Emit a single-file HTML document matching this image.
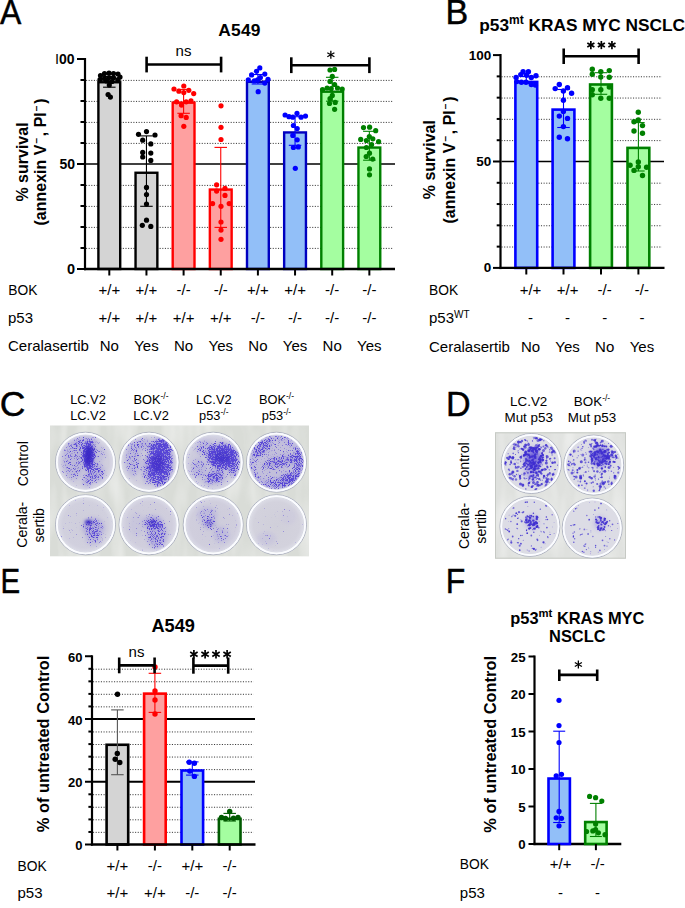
<!DOCTYPE html>
<html><head><meta charset="utf-8"><style>
html,body{margin:0;padding:0;background:#fff;}
body{width:685px;height:908px;overflow:hidden;}
svg{display:block;}
text{font-family:"Liberation Sans",sans-serif;fill:#000;}
</style></head><body>
<svg width="685" height="908" viewBox="0 0 685 908" font-family="Liberation Sans, sans-serif">
<rect width="685" height="908" fill="#fff"/>
<text transform="translate(0,23.9) scale(0.9,1)" font-size="35.5" stroke="#000" stroke-width="0.45">A</text>
<text transform="translate(445.4,24) scale(0.96,1)" font-size="35.5" stroke="#000" stroke-width="0.45">B</text>
<text transform="translate(-0.3,416.45) scale(1.0,1)" font-size="35.5" stroke="#000" stroke-width="0.45">C</text>
<text transform="translate(446,416.2) scale(0.96,1)" font-size="35.5" stroke="#000" stroke-width="0.45">D</text>
<text transform="translate(0.38,592.8) scale(0.83,1)" font-size="35.5" stroke="#000" stroke-width="0.45">E</text>
<text transform="translate(445.7,592.8) scale(0.9,1)" font-size="35.5" stroke="#000" stroke-width="0.45">F</text>
<line x1="86.00" y1="248.40" x2="393.00" y2="248.40" stroke="#3a3a3a" stroke-width="1" stroke-dasharray="1.1 1.53" stroke-linecap="butt"/>
<line x1="86.00" y1="227.40" x2="393.00" y2="227.40" stroke="#3a3a3a" stroke-width="1" stroke-dasharray="1.1 1.53" stroke-linecap="butt"/>
<line x1="86.00" y1="206.40" x2="393.00" y2="206.40" stroke="#3a3a3a" stroke-width="1" stroke-dasharray="1.1 1.53" stroke-linecap="butt"/>
<line x1="86.00" y1="185.40" x2="393.00" y2="185.40" stroke="#3a3a3a" stroke-width="1" stroke-dasharray="1.1 1.53" stroke-linecap="butt"/>
<line x1="86.00" y1="143.40" x2="393.00" y2="143.40" stroke="#3a3a3a" stroke-width="1" stroke-dasharray="1.1 1.53" stroke-linecap="butt"/>
<line x1="86.00" y1="122.40" x2="393.00" y2="122.40" stroke="#3a3a3a" stroke-width="1" stroke-dasharray="1.1 1.53" stroke-linecap="butt"/>
<line x1="86.00" y1="101.40" x2="393.00" y2="101.40" stroke="#3a3a3a" stroke-width="1" stroke-dasharray="1.1 1.53" stroke-linecap="butt"/>
<line x1="86.00" y1="80.40" x2="393.00" y2="80.40" stroke="#3a3a3a" stroke-width="1" stroke-dasharray="1.1 1.53" stroke-linecap="butt"/>
<line x1="86.00" y1="164.00" x2="395.00" y2="164.00" stroke="#000" stroke-width="1.6" stroke-linecap="butt"/>
<rect x="98.40" y="82.25" width="21.80" height="186.75" fill="#d4d4d4" stroke="#000" stroke-width="2.4"/>
<rect x="135.55" y="172.76" width="21.80" height="96.24" fill="#d4d4d4" stroke="#000" stroke-width="2.4"/>
<rect x="172.70" y="102.62" width="21.80" height="166.38" fill="#fea0a0" stroke="#ff0000" stroke-width="2.4"/>
<rect x="209.85" y="189.56" width="21.80" height="79.44" fill="#fea0a0" stroke="#ff0000" stroke-width="2.4"/>
<rect x="247.00" y="81.83" width="21.80" height="187.17" fill="#92bff8" stroke="#0000c0" stroke-width="2.4"/>
<rect x="284.15" y="132.44" width="21.80" height="136.56" fill="#92bff8" stroke="#0000c0" stroke-width="2.4"/>
<rect x="321.30" y="91.70" width="21.80" height="177.30" fill="#a4fea0" stroke="#008000" stroke-width="2.4"/>
<rect x="358.45" y="147.56" width="21.80" height="121.44" fill="#a4fea0" stroke="#008000" stroke-width="2.4"/>
<line x1="109.30" y1="76.50" x2="109.30" y2="87.20" stroke="#000" stroke-width="1.1" stroke-linecap="butt"/>
<line x1="103.05" y1="76.50" x2="115.55" y2="76.50" stroke="#000" stroke-width="1.1" stroke-linecap="butt"/>
<line x1="103.05" y1="87.20" x2="115.55" y2="87.20" stroke="#000" stroke-width="1.1" stroke-linecap="butt"/>
<line x1="146.45" y1="135.90" x2="146.45" y2="206.30" stroke="#000" stroke-width="1.1" stroke-linecap="butt"/>
<line x1="140.20" y1="135.90" x2="152.70" y2="135.90" stroke="#000" stroke-width="1.1" stroke-linecap="butt"/>
<line x1="140.20" y1="206.30" x2="152.70" y2="206.30" stroke="#000" stroke-width="1.1" stroke-linecap="butt"/>
<line x1="183.60" y1="89.40" x2="183.60" y2="113.30" stroke="#ff0000" stroke-width="1.1" stroke-linecap="butt"/>
<line x1="177.35" y1="89.40" x2="189.85" y2="89.40" stroke="#ff0000" stroke-width="1.1" stroke-linecap="butt"/>
<line x1="177.35" y1="113.30" x2="189.85" y2="113.30" stroke="#ff0000" stroke-width="1.1" stroke-linecap="butt"/>
<line x1="220.75" y1="147.40" x2="220.75" y2="227.40" stroke="#ff0000" stroke-width="1.1" stroke-linecap="butt"/>
<line x1="214.50" y1="147.40" x2="227.00" y2="147.40" stroke="#ff0000" stroke-width="1.1" stroke-linecap="butt"/>
<line x1="214.50" y1="227.40" x2="227.00" y2="227.40" stroke="#ff0000" stroke-width="1.1" stroke-linecap="butt"/>
<line x1="257.90" y1="74.50" x2="257.90" y2="84.00" stroke="#0000ff" stroke-width="1.1" stroke-linecap="butt"/>
<line x1="251.65" y1="74.50" x2="264.15" y2="74.50" stroke="#0000ff" stroke-width="1.1" stroke-linecap="butt"/>
<line x1="251.65" y1="84.00" x2="264.15" y2="84.00" stroke="#0000ff" stroke-width="1.1" stroke-linecap="butt"/>
<line x1="295.05" y1="116.70" x2="295.05" y2="145.30" stroke="#0000ff" stroke-width="1.1" stroke-linecap="butt"/>
<line x1="288.80" y1="116.70" x2="301.30" y2="116.70" stroke="#0000ff" stroke-width="1.1" stroke-linecap="butt"/>
<line x1="288.80" y1="145.30" x2="301.30" y2="145.30" stroke="#0000ff" stroke-width="1.1" stroke-linecap="butt"/>
<line x1="332.20" y1="77.30" x2="332.20" y2="101.20" stroke="#008000" stroke-width="1.1" stroke-linecap="butt"/>
<line x1="325.95" y1="77.30" x2="338.45" y2="77.30" stroke="#008000" stroke-width="1.1" stroke-linecap="butt"/>
<line x1="325.95" y1="101.20" x2="338.45" y2="101.20" stroke="#008000" stroke-width="1.1" stroke-linecap="butt"/>
<line x1="369.35" y1="131.30" x2="369.35" y2="160.20" stroke="#008000" stroke-width="1.1" stroke-linecap="butt"/>
<line x1="363.10" y1="131.30" x2="375.60" y2="131.30" stroke="#008000" stroke-width="1.1" stroke-linecap="butt"/>
<line x1="363.10" y1="160.20" x2="375.60" y2="160.20" stroke="#008000" stroke-width="1.1" stroke-linecap="butt"/>
<circle cx="100.5" cy="75.5" r="2.6" fill="#000"/>
<circle cx="104.5" cy="73.5" r="2.6" fill="#000"/>
<circle cx="109.0" cy="73.0" r="2.6" fill="#000"/>
<circle cx="113.5" cy="73.5" r="2.6" fill="#000"/>
<circle cx="118.0" cy="74.0" r="2.6" fill="#000"/>
<circle cx="120.0" cy="77.0" r="2.6" fill="#000"/>
<circle cx="100.0" cy="79.5" r="2.6" fill="#000"/>
<circle cx="104.5" cy="78.5" r="2.6" fill="#000"/>
<circle cx="109.0" cy="77.5" r="2.6" fill="#000"/>
<circle cx="113.5" cy="78.0" r="2.6" fill="#000"/>
<circle cx="118.0" cy="79.5" r="2.6" fill="#000"/>
<circle cx="106.5" cy="81.0" r="2.6" fill="#000"/>
<circle cx="112.0" cy="81.5" r="2.6" fill="#000"/>
<circle cx="109.3" cy="85.0" r="2.6" fill="#000"/>
<circle cx="108.1" cy="94.5" r="2.6" fill="#000"/>
<circle cx="110.4" cy="97.1" r="2.6" fill="#000"/>
<circle cx="138.5" cy="134.3" r="2.6" fill="#000"/>
<circle cx="146.5" cy="131.6" r="2.6" fill="#000"/>
<circle cx="155.0" cy="135.0" r="2.6" fill="#000"/>
<circle cx="142.7" cy="140.2" r="2.6" fill="#000"/>
<circle cx="150.8" cy="143.9" r="2.6" fill="#000"/>
<circle cx="142.7" cy="152.4" r="2.6" fill="#000"/>
<circle cx="150.8" cy="153.1" r="2.6" fill="#000"/>
<circle cx="142.7" cy="157.0" r="2.6" fill="#000"/>
<circle cx="150.8" cy="160.4" r="2.6" fill="#000"/>
<circle cx="146.5" cy="187.4" r="2.6" fill="#000"/>
<circle cx="146.5" cy="194.6" r="2.6" fill="#000"/>
<circle cx="146.5" cy="204.0" r="2.6" fill="#000"/>
<circle cx="146.5" cy="220.2" r="2.6" fill="#000"/>
<circle cx="142.3" cy="225.3" r="2.6" fill="#000"/>
<circle cx="150.8" cy="226.4" r="2.6" fill="#000"/>
<circle cx="174.0" cy="89.0" r="2.6" fill="#ff0000"/>
<circle cx="183.8" cy="86.0" r="2.6" fill="#ff0000"/>
<circle cx="178.9" cy="91.2" r="2.6" fill="#ff0000"/>
<circle cx="183.8" cy="92.6" r="2.6" fill="#ff0000"/>
<circle cx="188.8" cy="90.3" r="2.6" fill="#ff0000"/>
<circle cx="193.7" cy="93.6" r="2.6" fill="#ff0000"/>
<circle cx="176.6" cy="101.8" r="2.6" fill="#ff0000"/>
<circle cx="181.5" cy="105.1" r="2.6" fill="#ff0000"/>
<circle cx="186.2" cy="101.8" r="2.6" fill="#ff0000"/>
<circle cx="191.0" cy="100.9" r="2.6" fill="#ff0000"/>
<circle cx="181.1" cy="115.7" r="2.6" fill="#ff0000"/>
<circle cx="186.2" cy="117.4" r="2.6" fill="#ff0000"/>
<circle cx="183.8" cy="126.3" r="2.6" fill="#ff0000"/>
<circle cx="221.0" cy="105.8" r="2.6" fill="#ff0000"/>
<circle cx="221.0" cy="127.3" r="2.6" fill="#ff0000"/>
<circle cx="221.0" cy="139.5" r="2.6" fill="#ff0000"/>
<circle cx="216.6" cy="184.8" r="2.6" fill="#ff0000"/>
<circle cx="216.6" cy="191.1" r="2.6" fill="#ff0000"/>
<circle cx="225.0" cy="188.4" r="2.6" fill="#ff0000"/>
<circle cx="225.0" cy="195.4" r="2.6" fill="#ff0000"/>
<circle cx="212.6" cy="203.6" r="2.6" fill="#ff0000"/>
<circle cx="221.0" cy="206.3" r="2.6" fill="#ff0000"/>
<circle cx="229.2" cy="203.6" r="2.6" fill="#ff0000"/>
<circle cx="221.0" cy="222.0" r="2.6" fill="#ff0000"/>
<circle cx="221.0" cy="230.1" r="2.6" fill="#ff0000"/>
<circle cx="221.0" cy="239.3" r="2.6" fill="#ff0000"/>
<circle cx="259.8" cy="67.9" r="2.6" fill="#0000ff"/>
<circle cx="256.5" cy="71.3" r="2.6" fill="#0000ff"/>
<circle cx="251.6" cy="74.9" r="2.6" fill="#0000ff"/>
<circle cx="264.8" cy="74.1" r="2.6" fill="#0000ff"/>
<circle cx="248.3" cy="79.8" r="2.6" fill="#0000ff"/>
<circle cx="254.3" cy="80.9" r="2.6" fill="#0000ff"/>
<circle cx="260.4" cy="77.6" r="2.6" fill="#0000ff"/>
<circle cx="268.0" cy="79.3" r="2.6" fill="#0000ff"/>
<circle cx="264.8" cy="83.1" r="2.6" fill="#0000ff"/>
<circle cx="257.6" cy="79.8" r="2.6" fill="#0000ff"/>
<circle cx="258.2" cy="91.7" r="2.6" fill="#0000ff"/>
<circle cx="285.1" cy="115.0" r="2.6" fill="#0000ff"/>
<circle cx="289.0" cy="116.7" r="2.6" fill="#0000ff"/>
<circle cx="292.8" cy="117.2" r="2.6" fill="#0000ff"/>
<circle cx="297.0" cy="113.4" r="2.6" fill="#0000ff"/>
<circle cx="301.1" cy="117.2" r="2.6" fill="#0000ff"/>
<circle cx="305.5" cy="116.1" r="2.6" fill="#0000ff"/>
<circle cx="293.4" cy="125.5" r="2.6" fill="#0000ff"/>
<circle cx="297.2" cy="128.5" r="2.6" fill="#0000ff"/>
<circle cx="292.8" cy="135.4" r="2.6" fill="#0000ff"/>
<circle cx="297.2" cy="139.8" r="2.6" fill="#0000ff"/>
<circle cx="293.4" cy="147.5" r="2.6" fill="#0000ff"/>
<circle cx="298.3" cy="146.9" r="2.6" fill="#0000ff"/>
<circle cx="295.3" cy="168.3" r="2.6" fill="#0000ff"/>
<circle cx="330.0" cy="70.0" r="2.6" fill="#008000"/>
<circle cx="334.6" cy="69.4" r="2.6" fill="#008000"/>
<circle cx="332.3" cy="76.4" r="2.6" fill="#008000"/>
<circle cx="330.0" cy="81.4" r="2.6" fill="#008000"/>
<circle cx="334.6" cy="84.5" r="2.6" fill="#008000"/>
<circle cx="322.5" cy="89.7" r="2.6" fill="#008000"/>
<circle cx="327.1" cy="88.0" r="2.6" fill="#008000"/>
<circle cx="331.2" cy="88.5" r="2.6" fill="#008000"/>
<circle cx="337.5" cy="88.0" r="2.6" fill="#008000"/>
<circle cx="342.2" cy="89.1" r="2.6" fill="#008000"/>
<circle cx="332.3" cy="95.4" r="2.6" fill="#008000"/>
<circle cx="330.0" cy="98.7" r="2.6" fill="#008000"/>
<circle cx="329.5" cy="103.5" r="2.6" fill="#008000"/>
<circle cx="335.2" cy="102.4" r="2.6" fill="#008000"/>
<circle cx="334.6" cy="109.3" r="2.6" fill="#008000"/>
<circle cx="363.5" cy="127.6" r="2.6" fill="#008000"/>
<circle cx="369.6" cy="127.2" r="2.6" fill="#008000"/>
<circle cx="375.7" cy="130.7" r="2.6" fill="#008000"/>
<circle cx="360.7" cy="139.4" r="2.6" fill="#008000"/>
<circle cx="366.4" cy="140.5" r="2.6" fill="#008000"/>
<circle cx="369.3" cy="136.5" r="2.6" fill="#008000"/>
<circle cx="372.8" cy="138.8" r="2.6" fill="#008000"/>
<circle cx="378.6" cy="141.7" r="2.6" fill="#008000"/>
<circle cx="371.6" cy="144.6" r="2.6" fill="#008000"/>
<circle cx="366.4" cy="147.5" r="2.6" fill="#008000"/>
<circle cx="369.5" cy="153.2" r="2.6" fill="#008000"/>
<circle cx="366.2" cy="156.5" r="2.6" fill="#008000"/>
<circle cx="372.7" cy="159.1" r="2.6" fill="#008000"/>
<circle cx="369.5" cy="168.9" r="2.6" fill="#008000"/>
<circle cx="369.5" cy="174.8" r="2.6" fill="#008000"/>
<line x1="85.00" y1="58.00" x2="85.00" y2="270.20" stroke="#000" stroke-width="2.2" stroke-linecap="butt"/>
<line x1="83.90" y1="269.00" x2="395.00" y2="269.00" stroke="#000" stroke-width="2.4" stroke-linecap="butt"/>
<line x1="77.00" y1="269.00" x2="85.00" y2="269.00" stroke="#000" stroke-width="2" stroke-linecap="butt"/>
<line x1="80.50" y1="248.00" x2="85.00" y2="248.00" stroke="#000" stroke-width="2" stroke-linecap="butt"/>
<line x1="80.50" y1="227.00" x2="85.00" y2="227.00" stroke="#000" stroke-width="2" stroke-linecap="butt"/>
<line x1="80.50" y1="206.00" x2="85.00" y2="206.00" stroke="#000" stroke-width="2" stroke-linecap="butt"/>
<line x1="80.50" y1="185.00" x2="85.00" y2="185.00" stroke="#000" stroke-width="2" stroke-linecap="butt"/>
<line x1="77.00" y1="164.00" x2="85.00" y2="164.00" stroke="#000" stroke-width="2" stroke-linecap="butt"/>
<line x1="80.50" y1="143.00" x2="85.00" y2="143.00" stroke="#000" stroke-width="2" stroke-linecap="butt"/>
<line x1="80.50" y1="122.00" x2="85.00" y2="122.00" stroke="#000" stroke-width="2" stroke-linecap="butt"/>
<line x1="80.50" y1="101.00" x2="85.00" y2="101.00" stroke="#000" stroke-width="2" stroke-linecap="butt"/>
<line x1="80.50" y1="80.00" x2="85.00" y2="80.00" stroke="#000" stroke-width="2" stroke-linecap="butt"/>
<line x1="77.00" y1="59.00" x2="85.00" y2="59.00" stroke="#000" stroke-width="2" stroke-linecap="butt"/>
<line x1="109.30" y1="269.00" x2="109.30" y2="275.50" stroke="#000" stroke-width="2" stroke-linecap="butt"/>
<line x1="146.45" y1="269.00" x2="146.45" y2="275.50" stroke="#000" stroke-width="2" stroke-linecap="butt"/>
<line x1="183.60" y1="269.00" x2="183.60" y2="275.50" stroke="#000" stroke-width="2" stroke-linecap="butt"/>
<line x1="220.75" y1="269.00" x2="220.75" y2="275.50" stroke="#000" stroke-width="2" stroke-linecap="butt"/>
<line x1="257.90" y1="269.00" x2="257.90" y2="275.50" stroke="#000" stroke-width="2" stroke-linecap="butt"/>
<line x1="295.05" y1="269.00" x2="295.05" y2="275.50" stroke="#000" stroke-width="2" stroke-linecap="butt"/>
<line x1="332.20" y1="269.00" x2="332.20" y2="275.50" stroke="#000" stroke-width="2" stroke-linecap="butt"/>
<line x1="369.35" y1="269.00" x2="369.35" y2="275.50" stroke="#000" stroke-width="2" stroke-linecap="butt"/>
<text x="74.50" y="63.80" font-size="14" font-weight="bold" text-anchor="end"><tspan font-weight="normal" font-size="14.5">I</tspan><tspan>00</tspan></text>
<text x="75.00" y="168.70" font-size="14" font-weight="bold" text-anchor="end">50</text>
<text x="75.10" y="273.90" font-size="14.5" font-weight="bold" text-anchor="end">0</text>
<text transform="translate(27.5,162) rotate(-90)" font-size="16" font-weight="bold" text-anchor="middle">% survival</text>
<text transform="translate(45.6,162) rotate(-90)" font-size="16" font-weight="bold" text-anchor="middle">(annexin V<tspan font-size="10" dy="-6" dx="1">−</tspan><tspan dy="6" dx="1.5">, PI</tspan><tspan font-size="10" dy="-6" dx="1">−</tspan><tspan dy="6" dx="1.5">)</tspan></text>
<text x="239.50" y="36.00" font-size="17.4" font-weight="bold" text-anchor="middle" letter-spacing="0.2">A549</text>
<line x1="146.60" y1="64.50" x2="221.10" y2="64.50" stroke="#000" stroke-width="2.6" stroke-linecap="butt"/>
<line x1="146.60" y1="56.70" x2="146.60" y2="72.40" stroke="#000" stroke-width="2.6" stroke-linecap="butt"/>
<line x1="221.10" y1="56.70" x2="221.10" y2="72.40" stroke="#000" stroke-width="2.6" stroke-linecap="butt"/>
<text x="183.50" y="56.00" font-size="15" font-weight="normal" text-anchor="middle">ns</text>
<line x1="291.30" y1="65.20" x2="369.40" y2="65.20" stroke="#000" stroke-width="2.6" stroke-linecap="butt"/>
<line x1="291.30" y1="57.30" x2="291.30" y2="73.10" stroke="#000" stroke-width="2.6" stroke-linecap="butt"/>
<line x1="369.40" y1="57.30" x2="369.40" y2="73.10" stroke="#000" stroke-width="2.6" stroke-linecap="butt"/>
<line x1="330.85" y1="50.65" x2="330.85" y2="58.85" stroke="#000" stroke-width="1.3" stroke-linecap="butt"/>
<line x1="327.30" y1="52.70" x2="334.40" y2="56.80" stroke="#000" stroke-width="1.3" stroke-linecap="butt"/>
<line x1="334.40" y1="52.70" x2="327.30" y2="56.80" stroke="#000" stroke-width="1.3" stroke-linecap="butt"/>
<text transform="translate(8.2,295.1) scale(0.92,1)" font-size="15">BOK</text>
<text x="8.00" y="323.10" font-size="15" font-weight="normal" text-anchor="start">p53</text>
<text x="8.00" y="351.30" font-size="15" font-weight="normal" text-anchor="start">Ceralasertib</text>
<text x="109.30" y="295.10" font-size="15" font-weight="normal" text-anchor="middle">+/+</text>
<text x="109.30" y="323.10" font-size="15" font-weight="normal" text-anchor="middle">+/+</text>
<text x="109.30" y="351.30" font-size="15" font-weight="normal" text-anchor="middle">No</text>
<text x="146.45" y="295.10" font-size="15" font-weight="normal" text-anchor="middle">+/+</text>
<text x="146.45" y="323.10" font-size="15" font-weight="normal" text-anchor="middle">+/+</text>
<text x="146.45" y="351.30" font-size="15" font-weight="normal" text-anchor="middle">Yes</text>
<text x="183.60" y="295.10" font-size="15" font-weight="normal" text-anchor="middle">-/-</text>
<text x="183.60" y="323.10" font-size="15" font-weight="normal" text-anchor="middle">+/+</text>
<text x="183.60" y="351.30" font-size="15" font-weight="normal" text-anchor="middle">No</text>
<text x="220.75" y="295.10" font-size="15" font-weight="normal" text-anchor="middle">-/-</text>
<text x="220.75" y="323.10" font-size="15" font-weight="normal" text-anchor="middle">+/+</text>
<text x="220.75" y="351.30" font-size="15" font-weight="normal" text-anchor="middle">Yes</text>
<text x="257.90" y="295.10" font-size="15" font-weight="normal" text-anchor="middle">+/+</text>
<text x="257.90" y="323.10" font-size="15" font-weight="normal" text-anchor="middle">-/-</text>
<text x="257.90" y="351.30" font-size="15" font-weight="normal" text-anchor="middle">No</text>
<text x="295.05" y="295.10" font-size="15" font-weight="normal" text-anchor="middle">+/+</text>
<text x="295.05" y="323.10" font-size="15" font-weight="normal" text-anchor="middle">-/-</text>
<text x="295.05" y="351.30" font-size="15" font-weight="normal" text-anchor="middle">Yes</text>
<text x="332.20" y="295.10" font-size="15" font-weight="normal" text-anchor="middle">-/-</text>
<text x="332.20" y="323.10" font-size="15" font-weight="normal" text-anchor="middle">-/-</text>
<text x="332.20" y="351.30" font-size="15" font-weight="normal" text-anchor="middle">No</text>
<text x="369.35" y="295.10" font-size="15" font-weight="normal" text-anchor="middle">-/-</text>
<text x="369.35" y="323.10" font-size="15" font-weight="normal" text-anchor="middle">-/-</text>
<text x="369.35" y="351.30" font-size="15" font-weight="normal" text-anchor="middle">Yes</text>
<line x1="501.50" y1="247.02" x2="662.00" y2="247.02" stroke="#3a3a3a" stroke-width="1" stroke-dasharray="1.1 1.53" stroke-linecap="butt"/>
<line x1="501.50" y1="225.74" x2="662.00" y2="225.74" stroke="#3a3a3a" stroke-width="1" stroke-dasharray="1.1 1.53" stroke-linecap="butt"/>
<line x1="501.50" y1="204.46" x2="662.00" y2="204.46" stroke="#3a3a3a" stroke-width="1" stroke-dasharray="1.1 1.53" stroke-linecap="butt"/>
<line x1="501.50" y1="183.18" x2="662.00" y2="183.18" stroke="#3a3a3a" stroke-width="1" stroke-dasharray="1.1 1.53" stroke-linecap="butt"/>
<line x1="501.50" y1="140.62" x2="662.00" y2="140.62" stroke="#3a3a3a" stroke-width="1" stroke-dasharray="1.1 1.53" stroke-linecap="butt"/>
<line x1="501.50" y1="119.34" x2="662.00" y2="119.34" stroke="#3a3a3a" stroke-width="1" stroke-dasharray="1.1 1.53" stroke-linecap="butt"/>
<line x1="501.50" y1="98.06" x2="662.00" y2="98.06" stroke="#3a3a3a" stroke-width="1" stroke-dasharray="1.1 1.53" stroke-linecap="butt"/>
<line x1="501.50" y1="76.78" x2="662.00" y2="76.78" stroke="#3a3a3a" stroke-width="1" stroke-dasharray="1.1 1.53" stroke-linecap="butt"/>
<line x1="501.50" y1="161.50" x2="664.00" y2="161.50" stroke="#000" stroke-width="1.6" stroke-linecap="butt"/>
<rect x="515.40" y="81.94" width="21.80" height="185.96" fill="#92bff8" stroke="#0000ff" stroke-width="2.6"/>
<rect x="552.60" y="109.60" width="21.80" height="158.30" fill="#92bff8" stroke="#0000ff" stroke-width="2.6"/>
<rect x="590.10" y="84.49" width="21.80" height="183.41" fill="#a4fea0" stroke="#008000" stroke-width="2.6"/>
<rect x="627.50" y="147.90" width="21.80" height="120.00" fill="#a4fea0" stroke="#008000" stroke-width="2.6"/>
<line x1="526.30" y1="76.50" x2="526.30" y2="83.50" stroke="#0000ff" stroke-width="1.1" stroke-linecap="butt"/>
<line x1="520.05" y1="76.50" x2="532.55" y2="76.50" stroke="#0000ff" stroke-width="1.1" stroke-linecap="butt"/>
<line x1="520.05" y1="83.50" x2="532.55" y2="83.50" stroke="#0000ff" stroke-width="1.1" stroke-linecap="butt"/>
<line x1="563.50" y1="89.50" x2="563.50" y2="127.50" stroke="#0000ff" stroke-width="1.1" stroke-linecap="butt"/>
<line x1="557.25" y1="89.50" x2="569.75" y2="89.50" stroke="#0000ff" stroke-width="1.1" stroke-linecap="butt"/>
<line x1="557.25" y1="127.50" x2="569.75" y2="127.50" stroke="#0000ff" stroke-width="1.1" stroke-linecap="butt"/>
<line x1="601.00" y1="72.70" x2="601.00" y2="94.30" stroke="#008000" stroke-width="1.1" stroke-linecap="butt"/>
<line x1="594.75" y1="72.70" x2="607.25" y2="72.70" stroke="#008000" stroke-width="1.1" stroke-linecap="butt"/>
<line x1="594.75" y1="94.30" x2="607.25" y2="94.30" stroke="#008000" stroke-width="1.1" stroke-linecap="butt"/>
<line x1="638.40" y1="122.60" x2="638.40" y2="171.00" stroke="#008000" stroke-width="1.1" stroke-linecap="butt"/>
<line x1="632.15" y1="122.60" x2="644.65" y2="122.60" stroke="#008000" stroke-width="1.1" stroke-linecap="butt"/>
<line x1="632.15" y1="171.00" x2="644.65" y2="171.00" stroke="#008000" stroke-width="1.1" stroke-linecap="butt"/>
<circle cx="523.1" cy="71.7" r="2.7" fill="#0000ff"/>
<circle cx="528.4" cy="71.7" r="2.7" fill="#0000ff"/>
<circle cx="520.8" cy="74.6" r="2.7" fill="#0000ff"/>
<circle cx="516.1" cy="77.5" r="2.7" fill="#0000ff"/>
<circle cx="536.0" cy="75.8" r="2.7" fill="#0000ff"/>
<circle cx="516.7" cy="81.6" r="2.7" fill="#0000ff"/>
<circle cx="521.4" cy="82.2" r="2.7" fill="#0000ff"/>
<circle cx="526.0" cy="82.2" r="2.7" fill="#0000ff"/>
<circle cx="531.3" cy="84.5" r="2.7" fill="#0000ff"/>
<circle cx="535.4" cy="85.1" r="2.7" fill="#0000ff"/>
<circle cx="526.6" cy="75.2" r="2.7" fill="#0000ff"/>
<circle cx="531.3" cy="77.5" r="2.7" fill="#0000ff"/>
<circle cx="559.3" cy="84.5" r="2.7" fill="#0000ff"/>
<circle cx="555.2" cy="88.6" r="2.7" fill="#0000ff"/>
<circle cx="563.4" cy="91.0" r="2.7" fill="#0000ff"/>
<circle cx="567.5" cy="87.8" r="2.7" fill="#0000ff"/>
<circle cx="571.6" cy="93.3" r="2.7" fill="#0000ff"/>
<circle cx="563.4" cy="100.3" r="2.7" fill="#0000ff"/>
<circle cx="563.4" cy="111.4" r="2.7" fill="#0000ff"/>
<circle cx="559.3" cy="116.1" r="2.7" fill="#0000ff"/>
<circle cx="567.5" cy="118.4" r="2.7" fill="#0000ff"/>
<circle cx="563.4" cy="126.6" r="2.7" fill="#0000ff"/>
<circle cx="559.3" cy="137.3" r="2.7" fill="#0000ff"/>
<circle cx="567.5" cy="138.8" r="2.7" fill="#0000ff"/>
<circle cx="592.3" cy="69.3" r="2.7" fill="#008000"/>
<circle cx="592.3" cy="74.3" r="2.7" fill="#008000"/>
<circle cx="600.8" cy="71.6" r="2.7" fill="#008000"/>
<circle cx="609.3" cy="70.6" r="2.7" fill="#008000"/>
<circle cx="600.8" cy="77.0" r="2.7" fill="#008000"/>
<circle cx="609.3" cy="77.3" r="2.7" fill="#008000"/>
<circle cx="592.3" cy="89.7" r="2.7" fill="#008000"/>
<circle cx="600.8" cy="89.7" r="2.7" fill="#008000"/>
<circle cx="609.3" cy="87.1" r="2.7" fill="#008000"/>
<circle cx="592.3" cy="94.8" r="2.7" fill="#008000"/>
<circle cx="600.8" cy="98.3" r="2.7" fill="#008000"/>
<circle cx="609.3" cy="98.3" r="2.7" fill="#008000"/>
<circle cx="638.3" cy="112.2" r="2.7" fill="#008000"/>
<circle cx="634.0" cy="121.8" r="2.7" fill="#008000"/>
<circle cx="638.3" cy="119.9" r="2.7" fill="#008000"/>
<circle cx="642.5" cy="125.6" r="2.7" fill="#008000"/>
<circle cx="634.0" cy="131.0" r="2.7" fill="#008000"/>
<circle cx="642.5" cy="133.3" r="2.7" fill="#008000"/>
<circle cx="638.3" cy="161.9" r="2.7" fill="#008000"/>
<circle cx="630.1" cy="165.3" r="2.7" fill="#008000"/>
<circle cx="638.3" cy="166.8" r="2.7" fill="#008000"/>
<circle cx="646.6" cy="167.3" r="2.7" fill="#008000"/>
<circle cx="634.0" cy="170.4" r="2.7" fill="#008000"/>
<circle cx="642.5" cy="175.5" r="2.7" fill="#008000"/>
<line x1="500.50" y1="54.00" x2="500.50" y2="269.10" stroke="#000" stroke-width="2.2" stroke-linecap="butt"/>
<line x1="499.40" y1="267.90" x2="664.50" y2="267.90" stroke="#000" stroke-width="2.4" stroke-linecap="butt"/>
<line x1="493.00" y1="267.90" x2="500.50" y2="267.90" stroke="#000" stroke-width="2" stroke-linecap="butt"/>
<line x1="496.70" y1="246.62" x2="500.50" y2="246.62" stroke="#000" stroke-width="2" stroke-linecap="butt"/>
<line x1="496.70" y1="225.34" x2="500.50" y2="225.34" stroke="#000" stroke-width="2" stroke-linecap="butt"/>
<line x1="496.70" y1="204.06" x2="500.50" y2="204.06" stroke="#000" stroke-width="2" stroke-linecap="butt"/>
<line x1="496.70" y1="182.78" x2="500.50" y2="182.78" stroke="#000" stroke-width="2" stroke-linecap="butt"/>
<line x1="493.00" y1="161.50" x2="500.50" y2="161.50" stroke="#000" stroke-width="2" stroke-linecap="butt"/>
<line x1="496.70" y1="140.22" x2="500.50" y2="140.22" stroke="#000" stroke-width="2" stroke-linecap="butt"/>
<line x1="496.70" y1="118.94" x2="500.50" y2="118.94" stroke="#000" stroke-width="2" stroke-linecap="butt"/>
<line x1="496.70" y1="97.66" x2="500.50" y2="97.66" stroke="#000" stroke-width="2" stroke-linecap="butt"/>
<line x1="496.70" y1="76.38" x2="500.50" y2="76.38" stroke="#000" stroke-width="2" stroke-linecap="butt"/>
<line x1="493.00" y1="55.10" x2="500.50" y2="55.10" stroke="#000" stroke-width="2" stroke-linecap="butt"/>
<line x1="526.30" y1="267.90" x2="526.30" y2="274.50" stroke="#000" stroke-width="2" stroke-linecap="butt"/>
<line x1="563.50" y1="267.90" x2="563.50" y2="274.50" stroke="#000" stroke-width="2" stroke-linecap="butt"/>
<line x1="601.00" y1="267.90" x2="601.00" y2="274.50" stroke="#000" stroke-width="2" stroke-linecap="butt"/>
<line x1="638.40" y1="267.90" x2="638.40" y2="274.50" stroke="#000" stroke-width="2" stroke-linecap="butt"/>
<text x="491.30" y="59.60" font-size="13.5" font-weight="bold" text-anchor="end">100</text>
<text x="491.30" y="166.30" font-size="13.5" font-weight="bold" text-anchor="end">50</text>
<text x="491.30" y="272.20" font-size="13.5" font-weight="bold" text-anchor="end">0</text>
<text x="479.3" y="31.1" font-size="17.3" font-weight="bold">p53<tspan font-size="12" dy="-7">mt</tspan><tspan dy="7"> KRAS MYC NSCLC</tspan></text>
<line x1="563.70" y1="56.20" x2="638.60" y2="56.20" stroke="#000" stroke-width="2.6" stroke-linecap="butt"/>
<line x1="563.70" y1="48.50" x2="563.70" y2="64.00" stroke="#000" stroke-width="2.6" stroke-linecap="butt"/>
<line x1="638.60" y1="48.50" x2="638.60" y2="64.00" stroke="#000" stroke-width="2.6" stroke-linecap="butt"/>
<line x1="590.85" y1="40.95" x2="590.85" y2="49.15" stroke="#000" stroke-width="1.7" stroke-linecap="butt"/>
<line x1="587.30" y1="43.00" x2="594.40" y2="47.10" stroke="#000" stroke-width="1.7" stroke-linecap="butt"/>
<line x1="594.40" y1="43.00" x2="587.30" y2="47.10" stroke="#000" stroke-width="1.7" stroke-linecap="butt"/>
<line x1="601.35" y1="40.95" x2="601.35" y2="49.15" stroke="#000" stroke-width="1.7" stroke-linecap="butt"/>
<line x1="597.80" y1="43.00" x2="604.90" y2="47.10" stroke="#000" stroke-width="1.7" stroke-linecap="butt"/>
<line x1="604.90" y1="43.00" x2="597.80" y2="47.10" stroke="#000" stroke-width="1.7" stroke-linecap="butt"/>
<line x1="611.95" y1="40.95" x2="611.95" y2="49.15" stroke="#000" stroke-width="1.7" stroke-linecap="butt"/>
<line x1="608.40" y1="43.00" x2="615.50" y2="47.10" stroke="#000" stroke-width="1.7" stroke-linecap="butt"/>
<line x1="615.50" y1="43.00" x2="608.40" y2="47.10" stroke="#000" stroke-width="1.7" stroke-linecap="butt"/>
<text transform="translate(434.8,159.7) rotate(-90)" font-size="16" font-weight="bold" text-anchor="middle">% survival</text>
<text transform="translate(454.5,160) rotate(-90)" font-size="16" font-weight="bold" text-anchor="middle">(annexin V<tspan font-size="10" dy="-6" dx="1">−</tspan><tspan dy="6" dx="1.5">, PI</tspan><tspan font-size="10" dy="-6" dx="1">−</tspan><tspan dy="6" dx="1.5">)</tspan></text>
<text transform="translate(429,295.3) scale(0.92,1)" font-size="15">BOK</text>
<text x="429" y="323.2" font-size="15">p53<tspan font-size="10" dy="-5.5">WT</tspan></text>
<text x="429.00" y="351.60" font-size="15" font-weight="normal" text-anchor="start">Ceralasertib</text>
<text x="530.50" y="295.30" font-size="15" font-weight="normal" text-anchor="middle">+/+</text>
<text x="530.50" y="323.20" font-size="15" font-weight="normal" text-anchor="middle">-</text>
<text x="530.50" y="351.60" font-size="15" font-weight="normal" text-anchor="middle">No</text>
<text x="567.60" y="295.30" font-size="15" font-weight="normal" text-anchor="middle">+/+</text>
<text x="567.60" y="323.20" font-size="15" font-weight="normal" text-anchor="middle">-</text>
<text x="567.60" y="351.60" font-size="15" font-weight="normal" text-anchor="middle">Yes</text>
<text x="604.70" y="295.30" font-size="15" font-weight="normal" text-anchor="middle">-/-</text>
<text x="604.70" y="323.20" font-size="15" font-weight="normal" text-anchor="middle">-</text>
<text x="604.70" y="351.60" font-size="15" font-weight="normal" text-anchor="middle">No</text>
<text x="641.90" y="295.30" font-size="15" font-weight="normal" text-anchor="middle">-/-</text>
<text x="641.90" y="323.20" font-size="15" font-weight="normal" text-anchor="middle">-</text>
<text x="641.90" y="351.60" font-size="15" font-weight="normal" text-anchor="middle">Yes</text>
<line x1="93.00" y1="832.35" x2="253.50" y2="832.35" stroke="#3a3a3a" stroke-width="1" stroke-dasharray="1.1 1.53" stroke-linecap="butt"/>
<line x1="93.00" y1="819.80" x2="253.50" y2="819.80" stroke="#3a3a3a" stroke-width="1" stroke-dasharray="1.1 1.53" stroke-linecap="butt"/>
<line x1="93.00" y1="807.25" x2="253.50" y2="807.25" stroke="#3a3a3a" stroke-width="1" stroke-dasharray="1.1 1.53" stroke-linecap="butt"/>
<line x1="93.00" y1="794.70" x2="253.50" y2="794.70" stroke="#3a3a3a" stroke-width="1" stroke-dasharray="1.1 1.53" stroke-linecap="butt"/>
<line x1="93.00" y1="769.60" x2="253.50" y2="769.60" stroke="#3a3a3a" stroke-width="1" stroke-dasharray="1.1 1.53" stroke-linecap="butt"/>
<line x1="93.00" y1="757.05" x2="253.50" y2="757.05" stroke="#3a3a3a" stroke-width="1" stroke-dasharray="1.1 1.53" stroke-linecap="butt"/>
<line x1="93.00" y1="744.50" x2="253.50" y2="744.50" stroke="#3a3a3a" stroke-width="1" stroke-dasharray="1.1 1.53" stroke-linecap="butt"/>
<line x1="93.00" y1="731.95" x2="253.50" y2="731.95" stroke="#3a3a3a" stroke-width="1" stroke-dasharray="1.1 1.53" stroke-linecap="butt"/>
<line x1="93.00" y1="706.85" x2="253.50" y2="706.85" stroke="#3a3a3a" stroke-width="1" stroke-dasharray="1.1 1.53" stroke-linecap="butt"/>
<line x1="93.00" y1="694.30" x2="253.50" y2="694.30" stroke="#3a3a3a" stroke-width="1" stroke-dasharray="1.1 1.53" stroke-linecap="butt"/>
<line x1="93.00" y1="681.75" x2="253.50" y2="681.75" stroke="#3a3a3a" stroke-width="1" stroke-dasharray="1.1 1.53" stroke-linecap="butt"/>
<line x1="93.00" y1="669.20" x2="253.50" y2="669.20" stroke="#3a3a3a" stroke-width="1" stroke-dasharray="1.1 1.53" stroke-linecap="butt"/>
<line x1="93.00" y1="781.75" x2="255.00" y2="781.75" stroke="#000" stroke-width="1.8" stroke-linecap="butt"/>
<line x1="93.00" y1="719.00" x2="255.00" y2="719.00" stroke="#000" stroke-width="1.8" stroke-linecap="butt"/>
<rect x="106.60" y="744.77" width="21.60" height="99.73" fill="#d4d4d4" stroke="#000" stroke-width="2.6"/>
<rect x="144.10" y="693.63" width="21.60" height="150.87" fill="#fea0a0" stroke="#ff0000" stroke-width="2.6"/>
<rect x="181.50" y="770.50" width="21.60" height="74.00" fill="#92bff8" stroke="#0000ff" stroke-width="2.6"/>
<rect x="218.90" y="818.82" width="21.60" height="25.68" fill="#a4fea0" stroke="#005a00" stroke-width="2.6"/>
<line x1="117.40" y1="709.90" x2="117.40" y2="774.70" stroke="#555" stroke-width="1.1" stroke-linecap="butt"/>
<line x1="111.15" y1="709.90" x2="123.65" y2="709.90" stroke="#555" stroke-width="1.1" stroke-linecap="butt"/>
<line x1="111.15" y1="774.70" x2="123.65" y2="774.70" stroke="#555" stroke-width="1.1" stroke-linecap="butt"/>
<line x1="154.90" y1="673.30" x2="154.90" y2="712.40" stroke="#ff0000" stroke-width="1.1" stroke-linecap="butt"/>
<line x1="148.65" y1="673.30" x2="161.15" y2="673.30" stroke="#ff0000" stroke-width="1.1" stroke-linecap="butt"/>
<line x1="148.65" y1="712.40" x2="161.15" y2="712.40" stroke="#ff0000" stroke-width="1.1" stroke-linecap="butt"/>
<line x1="192.30" y1="761.90" x2="192.30" y2="775.10" stroke="#0000ff" stroke-width="1.1" stroke-linecap="butt"/>
<line x1="186.05" y1="761.90" x2="198.55" y2="761.90" stroke="#0000ff" stroke-width="1.1" stroke-linecap="butt"/>
<line x1="186.05" y1="775.10" x2="198.55" y2="775.10" stroke="#0000ff" stroke-width="1.1" stroke-linecap="butt"/>
<line x1="229.70" y1="813.40" x2="229.70" y2="821.00" stroke="#005a00" stroke-width="1.1" stroke-linecap="butt"/>
<line x1="223.45" y1="813.40" x2="235.95" y2="813.40" stroke="#005a00" stroke-width="1.1" stroke-linecap="butt"/>
<line x1="223.45" y1="821.00" x2="235.95" y2="821.00" stroke="#005a00" stroke-width="1.1" stroke-linecap="butt"/>
<circle cx="117.5" cy="694.3" r="2.7" fill="#000"/>
<circle cx="117.3" cy="753.4" r="2.7" fill="#000"/>
<circle cx="115.2" cy="759.2" r="2.7" fill="#000"/>
<circle cx="119.8" cy="762.5" r="2.7" fill="#000"/>
<circle cx="155.0" cy="667.0" r="2.7" fill="#ff0000"/>
<circle cx="155.0" cy="691.0" r="2.7" fill="#ff0000"/>
<circle cx="155.0" cy="700.0" r="2.7" fill="#ff0000"/>
<circle cx="155.0" cy="714.0" r="2.7" fill="#ff0000"/>
<circle cx="189.2" cy="762.2" r="2.7" fill="#0000ff"/>
<circle cx="194.4" cy="763.2" r="2.7" fill="#0000ff"/>
<circle cx="189.8" cy="771.1" r="2.7" fill="#0000ff"/>
<circle cx="194.4" cy="776.4" r="2.7" fill="#0000ff"/>
<circle cx="229.7" cy="811.5" r="2.7" fill="#005a00"/>
<circle cx="221.5" cy="817.5" r="2.7" fill="#005a00"/>
<circle cx="225.5" cy="818.5" r="2.7" fill="#005a00"/>
<circle cx="233.5" cy="818.3" r="2.7" fill="#005a00"/>
<circle cx="238.0" cy="817.5" r="2.7" fill="#005a00"/>
<line x1="92.00" y1="655.30" x2="92.00" y2="845.60" stroke="#000" stroke-width="2.2" stroke-linecap="butt"/>
<line x1="90.90" y1="844.50" x2="255.50" y2="844.50" stroke="#000" stroke-width="2.4" stroke-linecap="butt"/>
<line x1="85.00" y1="844.50" x2="92.00" y2="844.50" stroke="#000" stroke-width="2" stroke-linecap="butt"/>
<line x1="88.40" y1="831.95" x2="92.00" y2="831.95" stroke="#000" stroke-width="2" stroke-linecap="butt"/>
<line x1="88.40" y1="819.40" x2="92.00" y2="819.40" stroke="#000" stroke-width="2" stroke-linecap="butt"/>
<line x1="88.40" y1="806.85" x2="92.00" y2="806.85" stroke="#000" stroke-width="2" stroke-linecap="butt"/>
<line x1="88.40" y1="794.30" x2="92.00" y2="794.30" stroke="#000" stroke-width="2" stroke-linecap="butt"/>
<line x1="85.00" y1="781.75" x2="92.00" y2="781.75" stroke="#000" stroke-width="2" stroke-linecap="butt"/>
<line x1="88.40" y1="769.20" x2="92.00" y2="769.20" stroke="#000" stroke-width="2" stroke-linecap="butt"/>
<line x1="88.40" y1="756.65" x2="92.00" y2="756.65" stroke="#000" stroke-width="2" stroke-linecap="butt"/>
<line x1="88.40" y1="744.10" x2="92.00" y2="744.10" stroke="#000" stroke-width="2" stroke-linecap="butt"/>
<line x1="88.40" y1="731.55" x2="92.00" y2="731.55" stroke="#000" stroke-width="2" stroke-linecap="butt"/>
<line x1="85.00" y1="719.00" x2="92.00" y2="719.00" stroke="#000" stroke-width="2" stroke-linecap="butt"/>
<line x1="88.40" y1="706.45" x2="92.00" y2="706.45" stroke="#000" stroke-width="2" stroke-linecap="butt"/>
<line x1="88.40" y1="693.90" x2="92.00" y2="693.90" stroke="#000" stroke-width="2" stroke-linecap="butt"/>
<line x1="88.40" y1="681.35" x2="92.00" y2="681.35" stroke="#000" stroke-width="2" stroke-linecap="butt"/>
<line x1="88.40" y1="668.80" x2="92.00" y2="668.80" stroke="#000" stroke-width="2" stroke-linecap="butt"/>
<line x1="85.00" y1="656.25" x2="92.00" y2="656.25" stroke="#000" stroke-width="2" stroke-linecap="butt"/>
<line x1="117.40" y1="844.50" x2="117.40" y2="850.50" stroke="#000" stroke-width="2" stroke-linecap="butt"/>
<line x1="154.90" y1="844.50" x2="154.90" y2="850.50" stroke="#000" stroke-width="2" stroke-linecap="butt"/>
<line x1="192.30" y1="844.50" x2="192.30" y2="850.50" stroke="#000" stroke-width="2" stroke-linecap="butt"/>
<line x1="229.70" y1="844.50" x2="229.70" y2="850.50" stroke="#000" stroke-width="2" stroke-linecap="butt"/>
<text x="82.40" y="661.90" font-size="13" font-weight="bold" text-anchor="end">60</text>
<text x="82.40" y="724.60" font-size="13" font-weight="bold" text-anchor="end">40</text>
<text x="82.40" y="787.30" font-size="13" font-weight="bold" text-anchor="end">20</text>
<text x="82.40" y="850.00" font-size="13" font-weight="bold" text-anchor="end">0</text>
<text x="173.20" y="632.40" font-size="18.2" font-weight="bold" text-anchor="middle">A549</text>
<line x1="119.20" y1="665.40" x2="154.60" y2="665.40" stroke="#000" stroke-width="2.6" stroke-linecap="butt"/>
<line x1="119.20" y1="657.50" x2="119.20" y2="673.30" stroke="#000" stroke-width="2.6" stroke-linecap="butt"/>
<line x1="154.60" y1="657.50" x2="154.60" y2="673.30" stroke="#000" stroke-width="2.6" stroke-linecap="butt"/>
<text x="136.50" y="657.00" font-size="15" font-weight="normal" text-anchor="middle">ns</text>
<line x1="193.40" y1="665.60" x2="228.20" y2="665.60" stroke="#000" stroke-width="2.6" stroke-linecap="butt"/>
<line x1="193.40" y1="657.50" x2="193.40" y2="673.70" stroke="#000" stroke-width="2.6" stroke-linecap="butt"/>
<line x1="228.20" y1="657.50" x2="228.20" y2="673.70" stroke="#000" stroke-width="2.6" stroke-linecap="butt"/>
<line x1="193.90" y1="649.95" x2="193.90" y2="658.55" stroke="#000" stroke-width="1.7" stroke-linecap="butt"/>
<line x1="190.18" y1="652.10" x2="197.62" y2="656.40" stroke="#000" stroke-width="1.7" stroke-linecap="butt"/>
<line x1="197.62" y1="652.10" x2="190.18" y2="656.40" stroke="#000" stroke-width="1.7" stroke-linecap="butt"/>
<line x1="205.10" y1="649.95" x2="205.10" y2="658.55" stroke="#000" stroke-width="1.7" stroke-linecap="butt"/>
<line x1="201.38" y1="652.10" x2="208.82" y2="656.40" stroke="#000" stroke-width="1.7" stroke-linecap="butt"/>
<line x1="208.82" y1="652.10" x2="201.38" y2="656.40" stroke="#000" stroke-width="1.7" stroke-linecap="butt"/>
<line x1="216.00" y1="649.95" x2="216.00" y2="658.55" stroke="#000" stroke-width="1.7" stroke-linecap="butt"/>
<line x1="212.28" y1="652.10" x2="219.72" y2="656.40" stroke="#000" stroke-width="1.7" stroke-linecap="butt"/>
<line x1="219.72" y1="652.10" x2="212.28" y2="656.40" stroke="#000" stroke-width="1.7" stroke-linecap="butt"/>
<line x1="227.10" y1="649.95" x2="227.10" y2="658.55" stroke="#000" stroke-width="1.7" stroke-linecap="butt"/>
<line x1="223.38" y1="652.10" x2="230.82" y2="656.40" stroke="#000" stroke-width="1.7" stroke-linecap="butt"/>
<line x1="230.82" y1="652.10" x2="223.38" y2="656.40" stroke="#000" stroke-width="1.7" stroke-linecap="butt"/>
<text transform="translate(48.8,743.9) rotate(-90)" font-size="16.4" font-weight="bold" text-anchor="middle">% of untreated Control</text>
<text transform="translate(17.5,870.5) scale(0.92,1)" font-size="15">BOK</text>
<text x="17.50" y="898.40" font-size="15" font-weight="normal" text-anchor="start">p53</text>
<text x="117.40" y="870.80" font-size="15" font-weight="normal" text-anchor="middle">+/+</text>
<text x="117.40" y="898.40" font-size="15" font-weight="normal" text-anchor="middle">+/+</text>
<text x="154.90" y="870.80" font-size="15" font-weight="normal" text-anchor="middle">-/-</text>
<text x="154.90" y="898.40" font-size="15" font-weight="normal" text-anchor="middle">+/+</text>
<text x="192.30" y="870.80" font-size="15" font-weight="normal" text-anchor="middle">+/+</text>
<text x="192.30" y="898.40" font-size="15" font-weight="normal" text-anchor="middle">-/-</text>
<text x="229.70" y="870.80" font-size="15" font-weight="normal" text-anchor="middle">-/-</text>
<text x="229.70" y="898.40" font-size="15" font-weight="normal" text-anchor="middle">-/-</text>
<line x1="534.50" y1="655.50" x2="534.50" y2="845.10" stroke="#000" stroke-width="2.2" stroke-linecap="butt"/>
<line x1="533.40" y1="844.00" x2="621.30" y2="844.00" stroke="#000" stroke-width="2.4" stroke-linecap="butt"/>
<line x1="528.50" y1="844.00" x2="534.50" y2="844.00" stroke="#000" stroke-width="2" stroke-linecap="butt"/>
<line x1="528.50" y1="806.50" x2="534.50" y2="806.50" stroke="#000" stroke-width="2" stroke-linecap="butt"/>
<line x1="528.50" y1="769.00" x2="534.50" y2="769.00" stroke="#000" stroke-width="2" stroke-linecap="butt"/>
<line x1="528.50" y1="731.50" x2="534.50" y2="731.50" stroke="#000" stroke-width="2" stroke-linecap="butt"/>
<line x1="528.50" y1="694.00" x2="534.50" y2="694.00" stroke="#000" stroke-width="2" stroke-linecap="butt"/>
<line x1="528.50" y1="656.50" x2="534.50" y2="656.50" stroke="#000" stroke-width="2" stroke-linecap="butt"/>
<rect x="548.50" y="778.55" width="21.40" height="65.45" fill="#92bff8" stroke="#0000ff" stroke-width="2.6"/>
<rect x="585.20" y="822.05" width="21.40" height="21.95" fill="#a4fea0" stroke="#008000" stroke-width="2.6"/>
<line x1="559.20" y1="731.20" x2="559.20" y2="822.50" stroke="#0000ff" stroke-width="1.1" stroke-linecap="butt"/>
<line x1="553.20" y1="731.20" x2="565.20" y2="731.20" stroke="#0000ff" stroke-width="1.1" stroke-linecap="butt"/>
<line x1="553.20" y1="822.50" x2="565.20" y2="822.50" stroke="#0000ff" stroke-width="1.1" stroke-linecap="butt"/>
<line x1="595.90" y1="803.40" x2="595.90" y2="836.50" stroke="#008000" stroke-width="1.1" stroke-linecap="butt"/>
<line x1="589.90" y1="803.40" x2="601.90" y2="803.40" stroke="#008000" stroke-width="1.1" stroke-linecap="butt"/>
<line x1="589.90" y1="836.50" x2="601.90" y2="836.50" stroke="#008000" stroke-width="1.1" stroke-linecap="butt"/>
<circle cx="559.0" cy="700.3" r="2.6" fill="#0000ff"/>
<circle cx="559.0" cy="725.6" r="2.6" fill="#0000ff"/>
<circle cx="559.0" cy="742.5" r="2.6" fill="#0000ff"/>
<circle cx="556.2" cy="775.8" r="2.6" fill="#0000ff"/>
<circle cx="561.5" cy="774.3" r="2.6" fill="#0000ff"/>
<circle cx="559.0" cy="811.4" r="2.6" fill="#0000ff"/>
<circle cx="556.2" cy="817.8" r="2.6" fill="#0000ff"/>
<circle cx="561.5" cy="818.3" r="2.6" fill="#0000ff"/>
<circle cx="559.0" cy="825.8" r="2.6" fill="#0000ff"/>
<circle cx="589.6" cy="796.4" r="2.6" fill="#008000"/>
<circle cx="595.6" cy="797.7" r="2.6" fill="#008000"/>
<circle cx="601.8" cy="801.1" r="2.6" fill="#008000"/>
<circle cx="595.6" cy="824.0" r="2.6" fill="#008000"/>
<circle cx="586.6" cy="831.5" r="2.6" fill="#008000"/>
<circle cx="592.8" cy="830.9" r="2.6" fill="#008000"/>
<circle cx="595.6" cy="829.6" r="2.6" fill="#008000"/>
<circle cx="598.4" cy="832.8" r="2.6" fill="#008000"/>
<circle cx="605.0" cy="834.7" r="2.6" fill="#008000"/>
<line x1="559.20" y1="844.00" x2="559.20" y2="850.20" stroke="#000" stroke-width="2" stroke-linecap="butt"/>
<line x1="595.90" y1="844.00" x2="595.90" y2="850.20" stroke="#000" stroke-width="2" stroke-linecap="butt"/>
<text x="525.60" y="849.00" font-size="13.3" font-weight="bold" text-anchor="end">0</text>
<text x="525.60" y="811.50" font-size="13.3" font-weight="bold" text-anchor="end">5</text>
<text x="525.60" y="774.00" font-size="13.3" font-weight="bold" text-anchor="end">10</text>
<text x="525.60" y="736.50" font-size="13.3" font-weight="bold" text-anchor="end">15</text>
<text x="525.60" y="699.00" font-size="13.3" font-weight="bold" text-anchor="end">20</text>
<text x="525.60" y="661.50" font-size="13.3" font-weight="bold" text-anchor="end">25</text>
<text x="510.3" y="623.8" font-size="16.4" font-weight="bold">p53<tspan font-size="11.3" dy="-6.7">mt</tspan><tspan dy="6.7"> KRAS MYC</tspan></text>
<text x="577.30" y="642.00" font-size="16.4" font-weight="bold" text-anchor="middle">NSCLC</text>
<line x1="559.30" y1="674.90" x2="597.20" y2="674.90" stroke="#000" stroke-width="2.6" stroke-linecap="butt"/>
<line x1="559.30" y1="669.50" x2="559.30" y2="681.00" stroke="#000" stroke-width="2.6" stroke-linecap="butt"/>
<line x1="597.20" y1="669.50" x2="597.20" y2="681.00" stroke="#000" stroke-width="2.6" stroke-linecap="butt"/>
<line x1="578.35" y1="660.40" x2="578.35" y2="668.60" stroke="#000" stroke-width="1.3" stroke-linecap="butt"/>
<line x1="574.80" y1="662.45" x2="581.90" y2="666.55" stroke="#000" stroke-width="1.3" stroke-linecap="butt"/>
<line x1="581.90" y1="662.45" x2="574.80" y2="666.55" stroke="#000" stroke-width="1.3" stroke-linecap="butt"/>
<text transform="translate(495.5,744.3) rotate(-90)" font-size="16.4" font-weight="bold" text-anchor="middle">% of untreated Control</text>
<text transform="translate(459.8,869) scale(0.92,1)" font-size="15">BOK</text>
<text x="459.80" y="898.00" font-size="15" font-weight="normal" text-anchor="start">p53</text>
<text x="560.60" y="869.00" font-size="15" font-weight="normal" text-anchor="middle">+/+</text>
<text x="560.60" y="898.00" font-size="15" font-weight="normal" text-anchor="middle">-</text>
<text x="597.60" y="869.00" font-size="15" font-weight="normal" text-anchor="middle">-/-</text>
<text x="597.60" y="898.00" font-size="15" font-weight="normal" text-anchor="middle">-</text>
<text x="88.00" y="404.00" font-size="12.8" font-weight="normal" text-anchor="middle">LC.V2</text>
<text x="88.00" y="419.70" font-size="12.8" font-weight="normal" text-anchor="middle">LC.V2</text>
<text x="151.00" y="404.00" font-size="12.8" font-weight="normal" text-anchor="middle">BOK<tspan font-size="8.5" dy="-5">-/-</tspan></text>
<text x="151.00" y="419.70" font-size="12.8" font-weight="normal" text-anchor="middle">LC.V2</text>
<text x="213.80" y="404.00" font-size="12.8" font-weight="normal" text-anchor="middle">LC.V2</text>
<text x="213.80" y="419.70" font-size="12.8" font-weight="normal" text-anchor="middle">p53<tspan font-size="8.5" dy="-5">-/-</tspan></text>
<text x="276.50" y="404.00" font-size="12.8" font-weight="normal" text-anchor="middle">BOK<tspan font-size="8.5" dy="-5">-/-</tspan></text>
<text x="276.50" y="419.70" font-size="12.8" font-weight="normal" text-anchor="middle">p53<tspan font-size="8.5" dy="-5">-/-</tspan></text>
<text transform="translate(27.5,463.8) rotate(-90)" font-size="14" text-anchor="middle">Control</text>
<text transform="translate(27.3,524.7) rotate(-90)" font-size="14" text-anchor="middle">Cerala-</text>
<text transform="translate(44.4,525.3) rotate(-90)" font-size="14" text-anchor="middle">sertib</text>
<text x="528.70" y="405.80" font-size="13.4" font-weight="normal" text-anchor="middle">LC.V2</text>
<text x="528.70" y="421.90" font-size="13.4" font-weight="normal" text-anchor="middle">Mut p53</text>
<text x="592.00" y="405.80" font-size="13.4" font-weight="normal" text-anchor="middle">BOK<tspan font-size="8.5" dy="-5">-/-</tspan></text>
<text x="592.00" y="421.90" font-size="13.4" font-weight="normal" text-anchor="middle">Mut p53</text>
<text transform="translate(468.6,465) rotate(-90)" font-size="14.1" text-anchor="middle">Control</text>
<text transform="translate(469,526) rotate(-90)" font-size="14.1" text-anchor="middle">Cerala-</text>
<text transform="translate(485.6,526.4) rotate(-90)" font-size="14.1" text-anchor="middle">sertib</text>
<defs>
<filter id="spC" x="-20%" y="-20%" width="140%" height="140%" color-interpolation-filters="sRGB">
 <feGaussianBlur in="SourceGraphic" stdDeviation="2.2" result="d"/>
 <feTurbulence type="fractalNoise" baseFrequency="1.15" numOctaves="2" seed="4" result="n"/>
 <feComposite in="d" in2="n" operator="arithmetic" k1="0" k2="0.5" k3="1" k4="-0.28" result="m"/>
 <feColorMatrix in="m" type="matrix" values="0 0 0 0 0.34  0 0 0 0 0.27  0 0 0 0 0.84  0 0 0 6 -3" result="s"/>
 <feComponentTransfer in="d" result="d2"><feFuncA type="linear" slope="0.4"/></feComponentTransfer>
 <feMerge><feMergeNode in="d2"/><feMergeNode in="s"/></feMerge>
</filter>
<filter id="blur1" x="-20%" y="-20%" width="140%" height="140%"><feGaussianBlur stdDeviation="0.3"/></filter>
<filter id="blur2" x="-50%" y="-50%" width="200%" height="200%"><feGaussianBlur stdDeviation="1.5"/></filter>
<filter id="blur3" x="-50%" y="-50%" width="200%" height="200%"><feGaussianBlur stdDeviation="2.5"/></filter>
<filter id="plN" x="0" y="0" width="100%" height="100%">
 <feTurbulence type="fractalNoise" baseFrequency="0.08 0.02" numOctaves="2" seed="9" result="n"/>
 <feColorMatrix in="n" type="matrix" values="0 0 0 0 1  0 0 0 0 1  0 0 0 0 1  0 0 0 1.2 -0.45"/>
 <feComposite in2="SourceGraphic" operator="in"/>
</filter>
<radialGradient id="wellbg" cx="0.5" cy="0.5" r="0.5">
 <stop offset="0" stop-color="#d3d2db"/><stop offset="0.85" stop-color="#d6d5de"/><stop offset="1" stop-color="#dedee6"/>
</radialGradient>
</defs>
<rect x="50" y="425.5" width="259" height="130.79999999999995" fill="#d9dcd7"/>
<rect x="50" y="425.5" width="259" height="130.79999999999995" fill="#fff" filter="url(#plN)" opacity="0.7"/>
<clipPath id="wc0"><circle cx="85.5" cy="462.2" r="27"/></clipPath>
<circle cx="85.5" cy="462.2" r="30" fill="#eef0f7" stroke="#a9aebc" stroke-width="0.9"/>
<circle cx="85.5" cy="462.2" r="28.4" fill="none" stroke="#fbfcff" stroke-width="2.2"/>
<circle cx="85.5" cy="462.2" r="27.2" fill="none" stroke="#c4c6d2" stroke-width="0.6"/>
<circle cx="85.5" cy="462.2" r="27" fill="url(#wellbg)"/>
<g clip-path="url(#wc0)"><g filter="url(#spC)">
<ellipse cx="88.5" cy="456.2" rx="6" ry="14" fill="#4b3bd6" fill-opacity="1.0"/>
<ellipse cx="73.5" cy="460.2" rx="11" ry="20" fill="#4b3bd6" fill-opacity="0.42"/>
<ellipse cx="95.5" cy="472.2" rx="9" ry="10" fill="#4b3bd6" fill-opacity="0.55"/>
<ellipse cx="85.5" cy="442.2" rx="12" ry="6" fill="#4b3bd6" fill-opacity="0.5"/>
<ellipse cx="87.5" cy="480.2" rx="5" ry="7" fill="#4b3bd6" fill-opacity="0.5"/>
<ellipse cx="99.5" cy="454.2" rx="6" ry="8" fill="#4b3bd6" fill-opacity="0.3"/>
<ellipse cx="85.5" cy="462.2" rx="32" ry="32" fill="#4b3bd6" fill-opacity="0.1"/>
</g>
<g filter="url(#blur2)">
<ellipse cx="88.5" cy="456.2" rx="4" ry="10" fill="#3826c4" fill-opacity="0.9"/>
<ellipse cx="90.5" cy="450.2" rx="4" ry="4" fill="#3826c4" fill-opacity="0.6"/>
</g>
</g>
<clipPath id="wc1"><circle cx="149" cy="462.2" r="27"/></clipPath>
<circle cx="149" cy="462.2" r="30" fill="#eef0f7" stroke="#a9aebc" stroke-width="0.9"/>
<circle cx="149" cy="462.2" r="28.4" fill="none" stroke="#fbfcff" stroke-width="2.2"/>
<circle cx="149" cy="462.2" r="27.2" fill="none" stroke="#c4c6d2" stroke-width="0.6"/>
<circle cx="149" cy="462.2" r="27" fill="url(#wellbg)"/>
<g clip-path="url(#wc1)"><g filter="url(#spC)">
<ellipse cx="160.0" cy="462.2" rx="13" ry="25" fill="#4b3bd6" fill-opacity="0.78"/>
<ellipse cx="163.0" cy="448.2" rx="9" ry="9" fill="#4b3bd6" fill-opacity="0.8"/>
<ellipse cx="158.0" cy="464.2" rx="8" ry="12" fill="#4b3bd6" fill-opacity="0.95"/>
<ellipse cx="133.0" cy="458.2" rx="8" ry="18" fill="#4b3bd6" fill-opacity="0.42"/>
<ellipse cx="148.0" cy="470.2" rx="6" ry="14" fill="#4b3bd6" fill-opacity="0.5"/>
<ellipse cx="144.0" cy="444.2" rx="8" ry="6" fill="#4b3bd6" fill-opacity="0.45"/>
<ellipse cx="149.0" cy="462.2" rx="32" ry="32" fill="#4b3bd6" fill-opacity="0.1"/>
</g>
<g filter="url(#blur2)">
<ellipse cx="158.0" cy="463.2" rx="6" ry="9" fill="#3826c4" fill-opacity="0.5"/>
</g>
</g>
<clipPath id="wc2"><circle cx="213.2" cy="462.2" r="27"/></clipPath>
<circle cx="213.2" cy="462.2" r="30" fill="#eef0f7" stroke="#a9aebc" stroke-width="0.9"/>
<circle cx="213.2" cy="462.2" r="28.4" fill="none" stroke="#fbfcff" stroke-width="2.2"/>
<circle cx="213.2" cy="462.2" r="27.2" fill="none" stroke="#c4c6d2" stroke-width="0.6"/>
<circle cx="213.2" cy="462.2" r="27" fill="url(#wellbg)"/>
<g clip-path="url(#wc2)"><g filter="url(#spC)">
<ellipse cx="222.2" cy="456.2" rx="15" ry="13" fill="#4b3bd6" fill-opacity="0.95"/>
<ellipse cx="233.2" cy="462.2" rx="6" ry="14" fill="#4b3bd6" fill-opacity="0.7"/>
<ellipse cx="205.2" cy="448.2" rx="9" ry="8" fill="#4b3bd6" fill-opacity="0.45"/>
<ellipse cx="199.2" cy="468.2" rx="8" ry="10" fill="#4b3bd6" fill-opacity="0.4"/>
<ellipse cx="216.2" cy="476.2" rx="9" ry="7" fill="#4b3bd6" fill-opacity="0.65"/>
<ellipse cx="209.2" cy="480.2" rx="6" ry="5" fill="#4b3bd6" fill-opacity="0.4"/>
<ellipse cx="213.2" cy="462.2" rx="32" ry="32" fill="#4b3bd6" fill-opacity="0.15"/>
</g>
<g filter="url(#blur2)">
<ellipse cx="222.2" cy="457.2" rx="8" ry="6" fill="#3826c4" fill-opacity="0.45"/>
</g>
</g>
<clipPath id="wc3"><circle cx="276.5" cy="462.2" r="27"/></clipPath>
<circle cx="276.5" cy="462.2" r="30" fill="#eef0f7" stroke="#a9aebc" stroke-width="0.9"/>
<circle cx="276.5" cy="462.2" r="28.4" fill="none" stroke="#fbfcff" stroke-width="2.2"/>
<circle cx="276.5" cy="462.2" r="27.2" fill="none" stroke="#c4c6d2" stroke-width="0.6"/>
<circle cx="276.5" cy="462.2" r="27" fill="url(#wellbg)"/>
<g clip-path="url(#wc3)"><g filter="url(#spC)">
<ellipse cx="276.5" cy="462.2" rx="32" ry="32" fill="#4b3bd6" fill-opacity="0.33"/>
<circle cx="276.5" cy="462.2" r="24.5" fill="none" stroke="#4b3bd6" stroke-width="4" stroke-opacity="0.35"/>
<ellipse cx="262.5" cy="448.2" rx="12" ry="5" fill="#4b3bd6" fill-opacity="0.6" transform="rotate(-45 262.5 448.2)"/>
<ellipse cx="298.5" cy="462.2" rx="4" ry="14" fill="#4b3bd6" fill-opacity="0.55"/>
<ellipse cx="282.5" cy="461.2" rx="20" ry="5" fill="#4b3bd6" fill-opacity="0.55" transform="rotate(-12 282.5 461.2)"/>
<ellipse cx="288.5" cy="479.2" rx="11" ry="6" fill="#4b3bd6" fill-opacity="0.75" transform="rotate(-20 288.5 479.2)"/>
<ellipse cx="272.5" cy="482.2" rx="8" ry="4" fill="#4b3bd6" fill-opacity="0.45"/>
</g>
</g>
<clipPath id="wc4"><circle cx="85.5" cy="524.8" r="27"/></clipPath>
<circle cx="85.5" cy="524.8" r="30" fill="#eef0f7" stroke="#a9aebc" stroke-width="0.9"/>
<circle cx="85.5" cy="524.8" r="28.4" fill="none" stroke="#fbfcff" stroke-width="2.2"/>
<circle cx="85.5" cy="524.8" r="27.2" fill="none" stroke="#c4c6d2" stroke-width="0.6"/>
<circle cx="85.5" cy="524.8" r="27" fill="url(#wellbg)"/>
<g clip-path="url(#wc4)"><g filter="url(#spC)">
<ellipse cx="93.5" cy="527.8" rx="11" ry="10" fill="#4b3bd6" fill-opacity="0.55"/>
<ellipse cx="85.5" cy="524.8" rx="32" ry="32" fill="#4b3bd6" fill-opacity="0.08"/>
<ellipse cx="93.5" cy="538.8" rx="8" ry="6" fill="#4b3bd6" fill-opacity="0.4"/>
</g>
<g filter="url(#blur2)">
<ellipse cx="88.5" cy="522.3" rx="3.5" ry="2.2" fill="#3826c4" fill-opacity="1.0"/>
</g>
</g>
<clipPath id="wc5"><circle cx="149" cy="524.8" r="27"/></clipPath>
<circle cx="149" cy="524.8" r="30" fill="#eef0f7" stroke="#a9aebc" stroke-width="0.9"/>
<circle cx="149" cy="524.8" r="28.4" fill="none" stroke="#fbfcff" stroke-width="2.2"/>
<circle cx="149" cy="524.8" r="27.2" fill="none" stroke="#c4c6d2" stroke-width="0.6"/>
<circle cx="149" cy="524.8" r="27" fill="url(#wellbg)"/>
<g clip-path="url(#wc5)"><g filter="url(#spC)">
<ellipse cx="153.0" cy="522.8" rx="10" ry="7" fill="#4b3bd6" fill-opacity="0.6"/>
<ellipse cx="157.0" cy="534.8" rx="10" ry="14" fill="#4b3bd6" fill-opacity="0.55"/>
<ellipse cx="149.0" cy="524.8" rx="32" ry="32" fill="#4b3bd6" fill-opacity="0.1"/>
<ellipse cx="137.0" cy="524.8" rx="8" ry="12" fill="#4b3bd6" fill-opacity="0.15"/>
</g>
<g filter="url(#blur2)">
<ellipse cx="152.5" cy="522.8" rx="4" ry="2.5" fill="#3826c4" fill-opacity="0.5"/>
</g>
</g>
<clipPath id="wc6"><circle cx="213.2" cy="524.8" r="27"/></clipPath>
<circle cx="213.2" cy="524.8" r="30" fill="#eef0f7" stroke="#a9aebc" stroke-width="0.9"/>
<circle cx="213.2" cy="524.8" r="28.4" fill="none" stroke="#fbfcff" stroke-width="2.2"/>
<circle cx="213.2" cy="524.8" r="27.2" fill="none" stroke="#c4c6d2" stroke-width="0.6"/>
<circle cx="213.2" cy="524.8" r="27" fill="url(#wellbg)"/>
<g clip-path="url(#wc6)"><g filter="url(#spC)">
<ellipse cx="209.2" cy="523.8" rx="7" ry="5" fill="#4b3bd6" fill-opacity="0.55"/>
<ellipse cx="207.2" cy="514.8" rx="10" ry="8" fill="#4b3bd6" fill-opacity="0.35"/>
<ellipse cx="213.2" cy="524.8" rx="32" ry="32" fill="#4b3bd6" fill-opacity="0.1"/>
<ellipse cx="221.2" cy="534.8" rx="8" ry="8" fill="#4b3bd6" fill-opacity="0.35"/>
</g>
<g filter="url(#blur2)">
<ellipse cx="209.2" cy="523.8" rx="2.5" ry="2" fill="#3826c4" fill-opacity="0.45"/>
</g>
</g>
<clipPath id="wc7"><circle cx="276.5" cy="524.8" r="27"/></clipPath>
<circle cx="276.5" cy="524.8" r="30" fill="#eef0f7" stroke="#a9aebc" stroke-width="0.9"/>
<circle cx="276.5" cy="524.8" r="28.4" fill="none" stroke="#fbfcff" stroke-width="2.2"/>
<circle cx="276.5" cy="524.8" r="27.2" fill="none" stroke="#c4c6d2" stroke-width="0.6"/>
<circle cx="276.5" cy="524.8" r="27" fill="url(#wellbg)"/>
<g clip-path="url(#wc7)"><g filter="url(#spC)">
<ellipse cx="276.5" cy="524.8" rx="32" ry="32" fill="#4b3bd6" fill-opacity="0.04"/>
<ellipse cx="266.5" cy="538.8" rx="10" ry="7" fill="#4b3bd6" fill-opacity="0.18"/>
<ellipse cx="288.5" cy="516.8" rx="8" ry="8" fill="#4b3bd6" fill-opacity="0.1"/>
</g>
</g>
<rect x="495" y="432.3" width="131" height="126.40000000000003" fill="#dfe1de"/>
<rect x="495" y="432.3" width="131" height="126.40000000000003" fill="#fff" filter="url(#plN)" opacity="0.7"/>
<rect x="495.5" y="432.8" width="130" height="125.4" fill="none" stroke="#c6c9c4" stroke-width="1"/>
<clipPath id="wd0"><circle cx="531.4" cy="463.5" r="27"/></clipPath>
<circle cx="531.4" cy="463.5" r="30" fill="#eef0f7" stroke="#a9aebc" stroke-width="0.9"/>
<circle cx="531.4" cy="463.5" r="28.4" fill="none" stroke="#fbfcff" stroke-width="2.2"/>
<circle cx="531.4" cy="463.5" r="27.2" fill="none" stroke="#c4c6d2" stroke-width="0.6"/>
<circle cx="531.4" cy="463.5" r="27" fill="url(#wellbg)"/>
<circle cx="531.4" cy="463.5" r="27" fill="#dcdce5"/>
<g clip-path="url(#wd0)">
<g filter="url(#blur3)">
<ellipse cx="532.9" cy="458.5" rx="8.8" ry="9.9" fill="#4b3bd6" fill-opacity="0.65"/>
<ellipse cx="531.4" cy="471.5" rx="7.2" ry="8.1" fill="#4b3bd6" fill-opacity="0.3"/>
</g><g fill="#3f2fd0" filter="url(#blur1)">
<ellipse cx="547.6" cy="481.7" rx="2.0" ry="1.2" fill-opacity="0.64" transform="rotate(115 547.6 481.7)"/>
<ellipse cx="515.3" cy="466.3" rx="0.7" ry="0.4" fill-opacity="0.61" transform="rotate(99 515.3 466.3)"/>
<circle cx="510.3" cy="473.0" r="0.4" fill-opacity="0.69"/>
<circle cx="537.9" cy="444.2" r="0.4" fill-opacity="0.61"/>
<circle cx="550.7" cy="466.6" r="0.8" fill-opacity="0.94"/>
<circle cx="528.5" cy="444.5" r="1.5" fill-opacity="0.77"/>
<circle cx="532.8" cy="476.2" r="0.5" fill-opacity="0.93"/>
<circle cx="546.7" cy="455.9" r="1.0" fill-opacity="0.64"/>
<ellipse cx="515.9" cy="447.1" rx="0.8" ry="0.5" fill-opacity="0.72" transform="rotate(128 515.9 447.1)"/>
<circle cx="547.3" cy="456.8" r="1.5" fill-opacity="0.67"/>
<circle cx="525.8" cy="489.0" r="0.8" fill-opacity="0.78"/>
<circle cx="527.2" cy="460.9" r="0.5" fill-opacity="0.74"/>
<circle cx="523.2" cy="449.7" r="1.2" fill-opacity="0.86"/>
<circle cx="549.9" cy="474.7" r="0.4" fill-opacity="0.78"/>
<circle cx="516.9" cy="475.0" r="0.4" fill-opacity="0.71"/>
<circle cx="543.4" cy="446.6" r="1.0" fill-opacity="0.66"/>
<ellipse cx="505.1" cy="463.1" rx="2.0" ry="1.2" fill-opacity="0.92" transform="rotate(140 505.1 463.1)"/>
<circle cx="533.5" cy="482.4" r="1.5" fill-opacity="0.76"/>
<ellipse cx="529.0" cy="483.0" rx="1.6" ry="1.0" fill-opacity="0.87" transform="rotate(131 529.0 483.0)"/>
<ellipse cx="538.3" cy="445.7" rx="1.3" ry="0.8" fill-opacity="0.93" transform="rotate(123 538.3 445.7)"/>
<circle cx="545.1" cy="448.9" r="0.5" fill-opacity="0.74"/>
<circle cx="538.0" cy="447.8" r="0.4" fill-opacity="0.82"/>
<circle cx="517.8" cy="451.9" r="0.4" fill-opacity="0.82"/>
<circle cx="520.7" cy="460.0" r="0.4" fill-opacity="0.88"/>
<circle cx="536.8" cy="451.3" r="1.5" fill-opacity="0.62"/>
<circle cx="543.5" cy="450.4" r="1.5" fill-opacity="0.69"/>
<ellipse cx="547.6" cy="476.8" rx="0.8" ry="0.5" fill-opacity="0.66" transform="rotate(65 547.6 476.8)"/>
<circle cx="520.7" cy="461.6" r="0.6" fill-opacity="0.70"/>
<ellipse cx="525.9" cy="445.6" rx="0.5" ry="0.3" fill-opacity="0.74" transform="rotate(107 525.9 445.6)"/>
<circle cx="535.3" cy="450.6" r="0.6" fill-opacity="0.78"/>
<circle cx="536.6" cy="483.4" r="1.5" fill-opacity="0.68"/>
<circle cx="527.4" cy="466.5" r="0.5" fill-opacity="0.78"/>
<circle cx="509.7" cy="474.2" r="1.2" fill-opacity="0.78"/>
<circle cx="535.0" cy="484.5" r="0.8" fill-opacity="0.88"/>
<ellipse cx="522.1" cy="448.9" rx="1.6" ry="1.0" fill-opacity="0.94" transform="rotate(12 522.1 448.9)"/>
<circle cx="522.9" cy="486.5" r="0.6" fill-opacity="0.70"/>
<ellipse cx="542.3" cy="480.2" rx="0.7" ry="0.4" fill-opacity="0.91" transform="rotate(9 542.3 480.2)"/>
<circle cx="521.0" cy="456.8" r="1.0" fill-opacity="0.89"/>
<circle cx="547.4" cy="446.4" r="1.0" fill-opacity="0.73"/>
<circle cx="524.5" cy="473.4" r="1.2" fill-opacity="0.81"/>
<ellipse cx="505.8" cy="464.7" rx="1.0" ry="0.6" fill-opacity="0.77" transform="rotate(83 505.8 464.7)"/>
<ellipse cx="518.6" cy="452.6" rx="0.8" ry="0.5" fill-opacity="0.67" transform="rotate(83 518.6 452.6)"/>
<circle cx="538.9" cy="445.1" r="0.5" fill-opacity="0.67"/>
<circle cx="520.3" cy="441.9" r="1.0" fill-opacity="0.91"/>
<ellipse cx="524.3" cy="446.5" rx="1.3" ry="0.8" fill-opacity="0.85" transform="rotate(21 524.3 446.5)"/>
<ellipse cx="538.7" cy="471.5" rx="1.3" ry="0.8" fill-opacity="0.87" transform="rotate(153 538.7 471.5)"/>
<circle cx="518.0" cy="463.0" r="0.6" fill-opacity="0.70"/>
<circle cx="545.3" cy="448.3" r="1.2" fill-opacity="0.65"/>
<circle cx="523.3" cy="460.8" r="0.4" fill-opacity="0.73"/>
<circle cx="541.6" cy="462.9" r="0.5" fill-opacity="0.82"/>
<circle cx="534.6" cy="447.5" r="1.0" fill-opacity="0.80"/>
<circle cx="546.7" cy="458.8" r="0.6" fill-opacity="0.92"/>
<ellipse cx="517.9" cy="467.2" rx="2.0" ry="1.2" fill-opacity="0.70" transform="rotate(157 517.9 467.2)"/>
<circle cx="527.6" cy="456.5" r="0.4" fill-opacity="0.88"/>
<circle cx="540.3" cy="485.2" r="1.0" fill-opacity="0.64"/>
<circle cx="537.9" cy="474.8" r="1.2" fill-opacity="0.75"/>
<circle cx="554.6" cy="458.3" r="1.0" fill-opacity="0.70"/>
<ellipse cx="531.0" cy="481.8" rx="0.5" ry="0.3" fill-opacity="0.71" transform="rotate(6 531.0 481.8)"/>
<circle cx="557.6" cy="465.2" r="0.6" fill-opacity="0.71"/>
<circle cx="518.4" cy="474.1" r="0.4" fill-opacity="0.94"/>
<circle cx="540.1" cy="461.8" r="0.5" fill-opacity="0.87"/>
<circle cx="550.5" cy="447.9" r="0.8" fill-opacity="0.69"/>
<circle cx="517.2" cy="459.7" r="0.5" fill-opacity="0.89"/>
<circle cx="550.9" cy="475.8" r="0.4" fill-opacity="0.83"/>
<ellipse cx="546.8" cy="457.5" rx="0.8" ry="0.5" fill-opacity="0.67" transform="rotate(148 546.8 457.5)"/>
<ellipse cx="542.8" cy="454.5" rx="0.8" ry="0.5" fill-opacity="0.81" transform="rotate(152 542.8 454.5)"/>
<ellipse cx="541.8" cy="470.3" rx="2.0" ry="1.2" fill-opacity="0.63" transform="rotate(141 541.8 470.3)"/>
<circle cx="546.6" cy="446.8" r="0.4" fill-opacity="0.70"/>
<circle cx="536.3" cy="445.5" r="1.5" fill-opacity="0.64"/>
<circle cx="534.0" cy="448.6" r="1.0" fill-opacity="0.66"/>
<circle cx="535.7" cy="437.6" r="1.5" fill-opacity="0.71"/>
<ellipse cx="525.3" cy="440.1" rx="1.3" ry="0.8" fill-opacity="0.91" transform="rotate(36 525.3 440.1)"/>
<circle cx="509.8" cy="457.1" r="1.5" fill-opacity="0.92"/>
<circle cx="539.8" cy="439.7" r="1.5" fill-opacity="0.95"/>
<ellipse cx="535.4" cy="477.4" rx="1.3" ry="0.8" fill-opacity="0.85" transform="rotate(170 535.4 477.4)"/>
<circle cx="531.8" cy="486.9" r="1.2" fill-opacity="0.88"/>
<circle cx="512.8" cy="457.6" r="1.5" fill-opacity="0.60"/>
<ellipse cx="537.1" cy="454.1" rx="1.0" ry="0.6" fill-opacity="0.83" transform="rotate(106 537.1 454.1)"/>
<circle cx="535.0" cy="463.0" r="1.2" fill-opacity="0.65"/>
<ellipse cx="540.9" cy="473.0" rx="2.0" ry="1.2" fill-opacity="0.80" transform="rotate(44 540.9 473.0)"/>
<ellipse cx="521.7" cy="455.2" rx="0.5" ry="0.3" fill-opacity="0.71" transform="rotate(166 521.7 455.2)"/>
<circle cx="553.8" cy="451.2" r="1.2" fill-opacity="0.68"/>
<circle cx="513.1" cy="464.1" r="0.5" fill-opacity="0.72"/>
<ellipse cx="514.1" cy="448.9" rx="1.6" ry="1.0" fill-opacity="0.83" transform="rotate(12 514.1 448.9)"/>
<circle cx="551.8" cy="452.6" r="1.2" fill-opacity="0.66"/>
<ellipse cx="533.9" cy="438.7" rx="0.8" ry="0.5" fill-opacity="0.70" transform="rotate(141 533.9 438.7)"/>
<circle cx="516.0" cy="479.5" r="1.2" fill-opacity="0.63"/>
<circle cx="546.1" cy="477.9" r="1.0" fill-opacity="0.66"/>
<circle cx="531.4" cy="475.9" r="1.0" fill-opacity="0.87"/>
<circle cx="514.8" cy="464.0" r="1.2" fill-opacity="0.78"/>
<circle cx="542.9" cy="483.0" r="0.4" fill-opacity="0.63"/>
<circle cx="531.1" cy="471.9" r="1.2" fill-opacity="0.94"/>
<circle cx="546.4" cy="481.4" r="1.5" fill-opacity="0.84"/>
<circle cx="552.7" cy="475.5" r="0.5" fill-opacity="0.73"/>
<circle cx="537.1" cy="447.0" r="0.5" fill-opacity="0.75"/>
<ellipse cx="518.1" cy="450.6" rx="0.7" ry="0.4" fill-opacity="0.81" transform="rotate(104 518.1 450.6)"/>
<ellipse cx="549.5" cy="451.9" rx="0.8" ry="0.5" fill-opacity="0.86" transform="rotate(1 549.5 451.9)"/>
<ellipse cx="550.1" cy="458.7" rx="1.3" ry="0.8" fill-opacity="0.82" transform="rotate(155 550.1 458.7)"/>
<ellipse cx="532.1" cy="477.0" rx="0.7" ry="0.4" fill-opacity="0.79" transform="rotate(69 532.1 477.0)"/>
<circle cx="522.8" cy="484.9" r="1.5" fill-opacity="0.88"/>
<circle cx="540.8" cy="439.1" r="1.0" fill-opacity="0.75"/>
<ellipse cx="540.1" cy="471.9" rx="1.0" ry="0.6" fill-opacity="0.88" transform="rotate(6 540.1 471.9)"/>
<ellipse cx="548.3" cy="479.0" rx="1.3" ry="0.8" fill-opacity="0.84" transform="rotate(166 548.3 479.0)"/>
<circle cx="543.7" cy="477.7" r="1.0" fill-opacity="0.75"/>
<ellipse cx="521.2" cy="442.8" rx="0.8" ry="0.5" fill-opacity="0.75" transform="rotate(115 521.2 442.8)"/>
<circle cx="519.9" cy="479.2" r="0.6" fill-opacity="0.84"/>
<circle cx="510.1" cy="464.5" r="0.8" fill-opacity="0.79"/>
<circle cx="552.5" cy="462.8" r="1.2" fill-opacity="0.89"/>
<circle cx="505.1" cy="461.7" r="0.8" fill-opacity="0.78"/>
<circle cx="552.1" cy="454.9" r="0.6" fill-opacity="0.76"/>
<ellipse cx="525.7" cy="453.2" rx="1.3" ry="0.8" fill-opacity="0.74" transform="rotate(109 525.7 453.2)"/>
<circle cx="546.5" cy="460.7" r="1.0" fill-opacity="0.86"/>
<circle cx="549.8" cy="449.8" r="0.8" fill-opacity="0.69"/>
<circle cx="545.4" cy="460.6" r="0.4" fill-opacity="0.82"/>
<ellipse cx="514.3" cy="444.4" rx="2.0" ry="1.2" fill-opacity="0.66" transform="rotate(18 514.3 444.4)"/>
<circle cx="539.6" cy="444.6" r="0.6" fill-opacity="0.88"/>
<ellipse cx="512.8" cy="475.1" rx="0.8" ry="0.5" fill-opacity="0.89" transform="rotate(124 512.8 475.1)"/>
<circle cx="540.6" cy="480.1" r="0.6" fill-opacity="0.86"/>
<circle cx="517.4" cy="470.9" r="1.2" fill-opacity="0.66"/>
<circle cx="528.8" cy="453.2" r="0.4" fill-opacity="0.84"/>
<ellipse cx="521.8" cy="456.1" rx="0.7" ry="0.4" fill-opacity="0.72" transform="rotate(17 521.8 456.1)"/>
<circle cx="552.9" cy="474.4" r="1.0" fill-opacity="0.76"/>
<circle cx="525.9" cy="461.4" r="0.6" fill-opacity="0.85"/>
<circle cx="536.9" cy="450.9" r="1.0" fill-opacity="0.74"/>
<circle cx="516.5" cy="474.4" r="0.6" fill-opacity="0.72"/>
<ellipse cx="535.9" cy="489.1" rx="1.6" ry="1.0" fill-opacity="0.83" transform="rotate(159 535.9 489.1)"/>
<ellipse cx="510.5" cy="478.2" rx="2.0" ry="1.2" fill-opacity="0.69" transform="rotate(18 510.5 478.2)"/>
<circle cx="523.8" cy="455.8" r="1.0" fill-opacity="0.92"/>
<circle cx="528.6" cy="443.1" r="0.6" fill-opacity="0.66"/>
<circle cx="535.9" cy="438.8" r="0.8" fill-opacity="0.86"/>
<circle cx="532.7" cy="485.9" r="1.2" fill-opacity="0.62"/>
<circle cx="533.5" cy="478.4" r="0.4" fill-opacity="0.62"/>
<ellipse cx="532.9" cy="459.7" rx="2.0" ry="1.2" fill-opacity="0.61" transform="rotate(135 532.9 459.7)"/>
<circle cx="541.7" cy="439.6" r="1.0" fill-opacity="0.83"/>
<ellipse cx="528.2" cy="484.0" rx="0.7" ry="0.4" fill-opacity="0.74" transform="rotate(126 528.2 484.0)"/>
<ellipse cx="509.6" cy="470.6" rx="0.7" ry="0.4" fill-opacity="0.70" transform="rotate(140 509.6 470.6)"/>
<ellipse cx="520.7" cy="457.6" rx="1.6" ry="1.0" fill-opacity="0.77" transform="rotate(28 520.7 457.6)"/>
<ellipse cx="553.7" cy="449.3" rx="0.5" ry="0.3" fill-opacity="0.60" transform="rotate(122 553.7 449.3)"/>
<ellipse cx="524.5" cy="478.4" rx="1.3" ry="0.8" fill-opacity="0.67" transform="rotate(40 524.5 478.4)"/>
<circle cx="548.2" cy="447.7" r="0.5" fill-opacity="0.61"/>
<ellipse cx="512.6" cy="479.6" rx="1.3" ry="0.8" fill-opacity="0.73" transform="rotate(33 512.6 479.6)"/>
<circle cx="550.2" cy="473.8" r="0.6" fill-opacity="0.61"/>
<circle cx="553.9" cy="472.6" r="0.4" fill-opacity="0.87"/>
<circle cx="520.9" cy="468.3" r="0.8" fill-opacity="0.86"/>
<circle cx="522.0" cy="441.0" r="1.2" fill-opacity="0.72"/>
<ellipse cx="529.9" cy="476.9" rx="1.6" ry="1.0" fill-opacity="0.62" transform="rotate(151 529.9 476.9)"/>
<circle cx="539.2" cy="479.0" r="1.2" fill-opacity="0.78"/>
<circle cx="546.0" cy="469.4" r="0.8" fill-opacity="0.85"/>
<circle cx="506.6" cy="457.7" r="0.4" fill-opacity="0.86"/>
<ellipse cx="527.3" cy="440.9" rx="0.8" ry="0.5" fill-opacity="0.63" transform="rotate(15 527.3 440.9)"/>
<ellipse cx="552.8" cy="451.5" rx="2.0" ry="1.2" fill-opacity="0.82" transform="rotate(131 552.8 451.5)"/>
<ellipse cx="515.6" cy="466.6" rx="0.8" ry="0.5" fill-opacity="0.79" transform="rotate(113 515.6 466.6)"/>
<circle cx="518.5" cy="442.0" r="1.5" fill-opacity="0.91"/>
<ellipse cx="550.4" cy="466.5" rx="0.5" ry="0.3" fill-opacity="0.71" transform="rotate(77 550.4 466.5)"/>
<ellipse cx="547.4" cy="467.0" rx="1.6" ry="1.0" fill-opacity="0.86" transform="rotate(66 547.4 467.0)"/>
<circle cx="538.0" cy="440.6" r="1.5" fill-opacity="0.63"/>
<circle cx="541.6" cy="447.7" r="0.5" fill-opacity="0.72"/>
<circle cx="536.8" cy="438.2" r="1.0" fill-opacity="0.65"/>
<circle cx="539.0" cy="445.9" r="1.0" fill-opacity="0.89"/>
<circle cx="525.6" cy="445.0" r="1.5" fill-opacity="0.86"/>
<ellipse cx="536.5" cy="479.2" rx="0.8" ry="0.5" fill-opacity="0.72" transform="rotate(147 536.5 479.2)"/>
<circle cx="544.7" cy="469.3" r="1.5" fill-opacity="0.71"/>
<circle cx="526.7" cy="478.5" r="0.6" fill-opacity="0.78"/>
<circle cx="540.6" cy="464.0" r="0.6" fill-opacity="0.71"/>
<circle cx="528.1" cy="469.6" r="0.6" fill-opacity="0.92"/>
<circle cx="554.8" cy="452.0" r="1.5" fill-opacity="0.63"/>
<circle cx="525.9" cy="460.5" r="0.4" fill-opacity="0.80"/>
<circle cx="554.8" cy="462.4" r="1.2" fill-opacity="0.72"/>
<circle cx="555.0" cy="462.1" r="0.6" fill-opacity="0.76"/>
<ellipse cx="550.6" cy="461.0" rx="0.7" ry="0.4" fill-opacity="0.69" transform="rotate(56 550.6 461.0)"/>
<circle cx="508.1" cy="453.8" r="0.5" fill-opacity="0.93"/>
<circle cx="514.0" cy="447.2" r="1.0" fill-opacity="0.85"/>
<circle cx="533.3" cy="470.1" r="1.0" fill-opacity="0.63"/>
<circle cx="553.3" cy="474.3" r="1.2" fill-opacity="0.78"/>
<circle cx="512.9" cy="471.9" r="1.5" fill-opacity="0.88"/>
<circle cx="533.6" cy="475.2" r="0.8" fill-opacity="0.91"/>
<circle cx="512.0" cy="473.3" r="1.0" fill-opacity="0.67"/>
<circle cx="524.3" cy="464.3" r="1.5" fill-opacity="0.69"/>
<circle cx="538.3" cy="485.3" r="1.5" fill-opacity="0.91"/>
<circle cx="549.8" cy="473.1" r="1.0" fill-opacity="0.80"/>
<ellipse cx="555.1" cy="469.6" rx="1.0" ry="0.6" fill-opacity="0.94" transform="rotate(178 555.1 469.6)"/>
<circle cx="530.7" cy="461.7" r="0.4" fill-opacity="0.78"/>
<circle cx="546.3" cy="462.9" r="1.5" fill-opacity="0.80"/>
<circle cx="513.2" cy="457.4" r="1.0" fill-opacity="0.92"/>
<circle cx="511.0" cy="461.2" r="1.0" fill-opacity="0.71"/>
<circle cx="511.1" cy="462.7" r="1.0" fill-opacity="0.94"/>
<circle cx="531.4" cy="466.1" r="0.8" fill-opacity="0.80"/>
<circle cx="520.0" cy="475.9" r="1.2" fill-opacity="0.83"/>
<ellipse cx="551.9" cy="448.4" rx="2.0" ry="1.2" fill-opacity="0.69" transform="rotate(69 551.9 448.4)"/>
<circle cx="536.0" cy="448.0" r="1.2" fill-opacity="0.87"/>
<circle cx="513.2" cy="478.8" r="0.8" fill-opacity="0.75"/>
<circle cx="542.3" cy="464.8" r="0.6" fill-opacity="0.64"/>
<ellipse cx="537.2" cy="438.3" rx="1.0" ry="0.6" fill-opacity="0.78" transform="rotate(107 537.2 438.3)"/>
<circle cx="525.1" cy="447.2" r="1.5" fill-opacity="0.68"/>
<circle cx="543.8" cy="440.8" r="0.8" fill-opacity="0.63"/>
<circle cx="549.3" cy="482.4" r="0.5" fill-opacity="0.64"/>
<circle cx="544.4" cy="482.8" r="0.4" fill-opacity="0.85"/>
<circle cx="535.4" cy="456.7" r="1.0" fill-opacity="0.62"/>
<circle cx="534.8" cy="480.4" r="0.4" fill-opacity="0.94"/>
<circle cx="547.1" cy="475.4" r="0.8" fill-opacity="0.86"/>
<circle cx="553.3" cy="462.8" r="0.5" fill-opacity="0.88"/>
<circle cx="546.1" cy="445.2" r="1.2" fill-opacity="0.90"/>
<circle cx="544.0" cy="475.9" r="1.2" fill-opacity="0.92"/>
<ellipse cx="549.7" cy="479.8" rx="0.5" ry="0.3" fill-opacity="0.81" transform="rotate(179 549.7 479.8)"/>
<circle cx="537.2" cy="481.7" r="0.8" fill-opacity="0.93"/>
<circle cx="507.4" cy="457.9" r="1.2" fill-opacity="0.79"/>
<circle cx="536.5" cy="486.0" r="0.6" fill-opacity="0.64"/>
<circle cx="532.5" cy="440.9" r="0.6" fill-opacity="0.94"/>
<ellipse cx="529.3" cy="482.9" rx="1.0" ry="0.6" fill-opacity="0.92" transform="rotate(25 529.3 482.9)"/>
<ellipse cx="533.3" cy="477.3" rx="1.6" ry="1.0" fill-opacity="0.65" transform="rotate(65 533.3 477.3)"/>
<circle cx="538.1" cy="482.2" r="1.0" fill-opacity="0.62"/>
<ellipse cx="541.0" cy="447.2" rx="1.0" ry="0.6" fill-opacity="0.77" transform="rotate(78 541.0 447.2)"/>
<circle cx="530.1" cy="475.7" r="0.6" fill-opacity="0.68"/>
<circle cx="541.7" cy="484.1" r="1.2" fill-opacity="0.84"/>
<circle cx="525.2" cy="462.1" r="0.6" fill-opacity="0.65"/>
<circle cx="533.3" cy="437.2" r="0.5" fill-opacity="0.77"/>
<circle cx="526.8" cy="471.8" r="0.5" fill-opacity="0.68"/>
<circle cx="515.5" cy="445.4" r="0.4" fill-opacity="0.84"/>
<circle cx="533.2" cy="475.2" r="1.0" fill-opacity="0.71"/>
<circle cx="520.5" cy="484.1" r="1.5" fill-opacity="0.82"/>
<circle cx="542.2" cy="469.9" r="1.2" fill-opacity="0.90"/>
<ellipse cx="528.7" cy="485.8" rx="1.0" ry="0.6" fill-opacity="0.72" transform="rotate(35 528.7 485.8)"/>
<circle cx="550.4" cy="479.9" r="0.5" fill-opacity="0.61"/>
<ellipse cx="551.3" cy="474.0" rx="0.5" ry="0.3" fill-opacity="0.69" transform="rotate(135 551.3 474.0)"/>
<circle cx="535.9" cy="464.9" r="0.5" fill-opacity="0.73"/>
<circle cx="527.3" cy="441.9" r="0.4" fill-opacity="0.70"/>
<circle cx="516.4" cy="462.1" r="0.4" fill-opacity="0.88"/>
<circle cx="516.0" cy="444.6" r="1.0" fill-opacity="0.69"/>
<circle cx="548.3" cy="474.4" r="1.2" fill-opacity="0.80"/>
<circle cx="515.2" cy="459.8" r="0.5" fill-opacity="0.79"/>
<ellipse cx="549.2" cy="469.8" rx="0.7" ry="0.4" fill-opacity="0.91" transform="rotate(70 549.2 469.8)"/>
<circle cx="518.7" cy="459.7" r="0.6" fill-opacity="0.69"/>
<circle cx="547.1" cy="479.4" r="1.2" fill-opacity="0.83"/>
<circle cx="512.6" cy="458.1" r="1.5" fill-opacity="0.78"/>
<circle cx="513.2" cy="453.4" r="0.8" fill-opacity="0.65"/>
<ellipse cx="539.9" cy="458.3" rx="2.0" ry="1.2" fill-opacity="0.89" transform="rotate(85 539.9 458.3)"/>
<circle cx="521.9" cy="474.2" r="0.5" fill-opacity="0.73"/>
<ellipse cx="522.9" cy="466.9" rx="1.3" ry="0.8" fill-opacity="0.70" transform="rotate(175 522.9 466.9)"/>
<circle cx="537.7" cy="443.9" r="0.4" fill-opacity="0.60"/>
<circle cx="535.2" cy="454.7" r="1.2" fill-opacity="0.91"/>
<circle cx="508.8" cy="469.4" r="1.0" fill-opacity="0.70"/>
<ellipse cx="519.8" cy="475.8" rx="1.0" ry="0.6" fill-opacity="0.76" transform="rotate(9 519.8 475.8)"/>
<ellipse cx="518.0" cy="445.9" rx="2.0" ry="1.2" fill-opacity="0.64" transform="rotate(35 518.0 445.9)"/>
<ellipse cx="508.7" cy="459.1" rx="1.3" ry="0.8" fill-opacity="0.94" transform="rotate(167 508.7 459.1)"/>
<ellipse cx="520.1" cy="477.8" rx="1.6" ry="1.0" fill-opacity="0.88" transform="rotate(61 520.1 477.8)"/>
<ellipse cx="551.8" cy="479.4" rx="2.0" ry="1.2" fill-opacity="0.87" transform="rotate(80 551.8 479.4)"/>
<circle cx="511.4" cy="474.1" r="0.6" fill-opacity="0.95"/>
<circle cx="532.3" cy="457.3" r="0.8" fill-opacity="0.73"/>
<circle cx="531.8" cy="448.0" r="1.5" fill-opacity="0.82"/>
<ellipse cx="525.2" cy="462.8" rx="1.6" ry="1.0" fill-opacity="0.78" transform="rotate(139 525.2 462.8)"/>
<circle cx="519.9" cy="449.0" r="0.6" fill-opacity="0.64"/>
<circle cx="515.5" cy="454.4" r="0.5" fill-opacity="0.89"/>
<ellipse cx="541.6" cy="483.5" rx="0.5" ry="0.3" fill-opacity="0.94" transform="rotate(84 541.6 483.5)"/>
<circle cx="518.4" cy="444.0" r="0.8" fill-opacity="0.73"/>
<circle cx="518.9" cy="445.9" r="0.5" fill-opacity="0.74"/>
<circle cx="544.9" cy="476.2" r="0.6" fill-opacity="0.65"/>
<circle cx="525.2" cy="469.6" r="0.4" fill-opacity="0.93"/>
<circle cx="515.7" cy="467.7" r="1.0" fill-opacity="0.70"/>
<ellipse cx="546.0" cy="485.2" rx="2.0" ry="1.2" fill-opacity="0.69" transform="rotate(118 546.0 485.2)"/>
<circle cx="514.6" cy="476.3" r="1.2" fill-opacity="0.68"/>
<circle cx="529.2" cy="447.2" r="0.8" fill-opacity="0.9"/>
<circle cx="543.3" cy="457.2" r="0.8" fill-opacity="0.9"/>
<circle cx="529.9" cy="463.4" r="0.8" fill-opacity="0.9"/>
<circle cx="536.7" cy="466.8" r="0.8" fill-opacity="0.9"/>
<circle cx="524.1" cy="463.2" r="0.8" fill-opacity="0.9"/>
<circle cx="530.1" cy="448.9" r="0.6" fill-opacity="0.9"/>
<circle cx="533.0" cy="469.2" r="0.6" fill-opacity="0.9"/>
<circle cx="530.7" cy="457.4" r="0.6" fill-opacity="0.9"/>
<circle cx="524.7" cy="454.9" r="1.2" fill-opacity="0.9"/>
<circle cx="540.5" cy="460.9" r="0.6" fill-opacity="0.9"/>
<circle cx="543.0" cy="460.0" r="1.2" fill-opacity="0.9"/>
<circle cx="531.7" cy="466.2" r="0.8" fill-opacity="0.9"/>
<circle cx="542.1" cy="457.6" r="1.0" fill-opacity="0.9"/>
<circle cx="534.0" cy="448.9" r="1.2" fill-opacity="0.9"/>
<circle cx="524.2" cy="455.1" r="1.2" fill-opacity="0.9"/>
<circle cx="535.7" cy="450.5" r="1.0" fill-opacity="0.9"/>
<circle cx="530.2" cy="462.1" r="1.0" fill-opacity="0.9"/>
<circle cx="538.4" cy="449.7" r="0.6" fill-opacity="0.9"/>
<circle cx="532.1" cy="451.5" r="0.8" fill-opacity="0.9"/>
<circle cx="532.6" cy="464.6" r="1.2" fill-opacity="0.9"/>
<circle cx="531.5" cy="466.6" r="0.8" fill-opacity="0.9"/>
<circle cx="543.2" cy="455.1" r="0.8" fill-opacity="0.9"/>
<circle cx="536.1" cy="468.7" r="0.8" fill-opacity="0.9"/>
<circle cx="523.9" cy="455.8" r="0.8" fill-opacity="0.9"/>
<circle cx="525.7" cy="454.3" r="1.2" fill-opacity="0.9"/>
<circle cx="532.1" cy="455.1" r="0.6" fill-opacity="0.9"/>
<circle cx="538.0" cy="466.6" r="0.6" fill-opacity="0.9"/>
<circle cx="532.7" cy="451.0" r="0.8" fill-opacity="0.9"/>
<circle cx="529.6" cy="456.1" r="0.6" fill-opacity="0.9"/>
<circle cx="542.0" cy="453.6" r="0.8" fill-opacity="0.9"/>
<circle cx="530.9" cy="468.1" r="1.2" fill-opacity="0.9"/>
<circle cx="526.6" cy="467.2" r="0.8" fill-opacity="0.9"/>
<circle cx="531.7" cy="462.9" r="1.2" fill-opacity="0.9"/>
<circle cx="529.7" cy="457.7" r="1.0" fill-opacity="0.9"/>
<circle cx="534.8" cy="466.5" r="1.0" fill-opacity="0.9"/>
<circle cx="535.6" cy="449.4" r="0.6" fill-opacity="0.9"/>
<circle cx="525.7" cy="451.5" r="1.0" fill-opacity="0.9"/>
<circle cx="531.1" cy="456.6" r="1.0" fill-opacity="0.9"/>
<circle cx="535.0" cy="462.2" r="0.6" fill-opacity="0.9"/>
<circle cx="538.4" cy="463.7" r="0.8" fill-opacity="0.9"/>
<circle cx="532.6" cy="449.9" r="1.2" fill-opacity="0.9"/>
<circle cx="540.5" cy="466.5" r="0.8" fill-opacity="0.9"/>
<circle cx="535.8" cy="451.7" r="0.8" fill-opacity="0.9"/>
<circle cx="536.2" cy="450.0" r="0.6" fill-opacity="0.9"/>
<circle cx="530.9" cy="447.8" r="1.2" fill-opacity="0.9"/>
<circle cx="528.7" cy="450.9" r="0.8" fill-opacity="0.9"/>
<circle cx="531.9" cy="468.1" r="0.8" fill-opacity="0.9"/>
<circle cx="539.5" cy="449.1" r="1.2" fill-opacity="0.9"/>
<circle cx="526.7" cy="463.6" r="0.8" fill-opacity="0.9"/>
<circle cx="533.4" cy="459.9" r="0.6" fill-opacity="0.9"/>
<circle cx="526.0" cy="459.1" r="1.0" fill-opacity="0.9"/>
<circle cx="535.7" cy="456.5" r="0.6" fill-opacity="0.9"/>
<circle cx="538.6" cy="449.4" r="0.8" fill-opacity="0.9"/>
<circle cx="541.1" cy="456.0" r="0.8" fill-opacity="0.9"/>
<circle cx="536.8" cy="452.4" r="1.0" fill-opacity="0.9"/>
<circle cx="535.1" cy="465.4" r="0.6" fill-opacity="0.9"/>
<circle cx="531.5" cy="460.8" r="0.6" fill-opacity="0.9"/>
<circle cx="535.2" cy="454.1" r="0.8" fill-opacity="0.9"/>
<circle cx="539.4" cy="449.2" r="1.2" fill-opacity="0.9"/>
<circle cx="540.4" cy="460.8" r="1.2" fill-opacity="0.9"/>
<circle cx="538.7" cy="462.7" r="1.0" fill-opacity="0.9"/>
<circle cx="524.7" cy="465.6" r="1.2" fill-opacity="0.9"/>
<circle cx="535.3" cy="457.9" r="1.2" fill-opacity="0.9"/>
<circle cx="538.9" cy="459.2" r="1.0" fill-opacity="0.9"/>
<circle cx="535.3" cy="449.5" r="1.0" fill-opacity="0.9"/>
<circle cx="540.7" cy="462.3" r="1.0" fill-opacity="0.9"/>
<circle cx="523.4" cy="464.6" r="0.6" fill-opacity="0.9"/>
<circle cx="529.6" cy="456.6" r="0.6" fill-opacity="0.9"/>
<circle cx="538.0" cy="462.6" r="1.0" fill-opacity="0.9"/>
<circle cx="532.9" cy="456.3" r="1.0" fill-opacity="0.9"/>
<circle cx="526.3" cy="454.3" r="0.6" fill-opacity="0.9"/>
<circle cx="537.1" cy="451.9" r="0.6" fill-opacity="0.9"/>
<circle cx="542.2" cy="453.1" r="1.0" fill-opacity="0.9"/>
<circle cx="535.2" cy="469.7" r="0.8" fill-opacity="0.9"/>
<circle cx="527.0" cy="454.4" r="1.2" fill-opacity="0.9"/>
<circle cx="537.7" cy="447.6" r="1.0" fill-opacity="0.9"/>
<circle cx="531.2" cy="457.0" r="0.6" fill-opacity="0.9"/>
<circle cx="533.5" cy="452.5" r="1.0" fill-opacity="0.9"/>
<circle cx="533.1" cy="450.9" r="1.0" fill-opacity="0.9"/>
<circle cx="525.2" cy="454.2" r="0.6" fill-opacity="0.9"/>
<circle cx="530.2" cy="447.4" r="1.0" fill-opacity="0.9"/>
<circle cx="529.6" cy="460.7" r="1.0" fill-opacity="0.9"/>
<circle cx="533.2" cy="462.3" r="1.2" fill-opacity="0.9"/>
<circle cx="540.4" cy="461.0" r="0.8" fill-opacity="0.9"/>
<circle cx="534.2" cy="455.5" r="1.0" fill-opacity="0.9"/>
<circle cx="529.7" cy="464.1" r="0.8" fill-opacity="0.9"/>
<circle cx="542.6" cy="460.9" r="0.6" fill-opacity="0.9"/>
<circle cx="539.0" cy="459.7" r="0.8" fill-opacity="0.9"/>
<circle cx="534.6" cy="456.9" r="1.2" fill-opacity="0.9"/>
<circle cx="537.1" cy="469.0" r="0.8" fill-opacity="0.9"/>
<circle cx="535.9" cy="461.4" r="0.6" fill-opacity="0.9"/>
<circle cx="531.6" cy="450.4" r="0.6" fill-opacity="0.9"/>
<circle cx="528.1" cy="464.8" r="1.0" fill-opacity="0.9"/>
<circle cx="534.9" cy="470.0" r="0.6" fill-opacity="0.9"/>
<circle cx="540.6" cy="459.2" r="0.8" fill-opacity="0.9"/>
<circle cx="532.7" cy="467.5" r="0.6" fill-opacity="0.9"/>
<circle cx="534.2" cy="469.8" r="0.8" fill-opacity="0.9"/>
<circle cx="540.7" cy="460.4" r="0.8" fill-opacity="0.9"/>
<circle cx="527.8" cy="460.6" r="1.0" fill-opacity="0.9"/>
<circle cx="528.1" cy="469.0" r="0.6" fill-opacity="0.9"/>
<circle cx="534.5" cy="463.4" r="1.0" fill-opacity="0.9"/>
<circle cx="541.0" cy="455.9" r="1.2" fill-opacity="0.9"/>
<circle cx="527.9" cy="464.9" r="0.6" fill-opacity="0.9"/>
<circle cx="528.4" cy="450.8" r="1.2" fill-opacity="0.9"/>
<circle cx="536.8" cy="450.3" r="1.0" fill-opacity="0.9"/>
<circle cx="539.3" cy="462.0" r="1.2" fill-opacity="0.9"/>
<circle cx="542.5" cy="455.2" r="1.2" fill-opacity="0.9"/>
<circle cx="525.3" cy="452.4" r="1.2" fill-opacity="0.9"/>
<circle cx="529.3" cy="455.5" r="1.0" fill-opacity="0.9"/>
<circle cx="529.3" cy="450.7" r="1.2" fill-opacity="0.9"/>
<circle cx="528.5" cy="454.7" r="1.0" fill-opacity="0.9"/>
<circle cx="542.4" cy="459.5" r="1.2" fill-opacity="0.9"/>
<circle cx="526.6" cy="460.4" r="1.2" fill-opacity="0.9"/>
<circle cx="534.8" cy="466.6" r="1.0" fill-opacity="0.9"/>
<circle cx="530.0" cy="449.5" r="1.2" fill-opacity="0.9"/>
<circle cx="534.6" cy="456.4" r="0.6" fill-opacity="0.9"/>
<circle cx="526.9" cy="466.9" r="0.6" fill-opacity="0.9"/>
<circle cx="532.6" cy="467.4" r="0.6" fill-opacity="0.9"/>
<circle cx="532.4" cy="459.9" r="1.0" fill-opacity="0.9"/>
<circle cx="529.2" cy="469.1" r="0.6" fill-opacity="0.9"/>
<circle cx="533.7" cy="461.8" r="0.6" fill-opacity="0.9"/>
<circle cx="528.2" cy="448.8" r="0.6" fill-opacity="0.9"/>
<circle cx="539.2" cy="465.8" r="1.2" fill-opacity="0.9"/>
<circle cx="528.8" cy="454.9" r="0.8" fill-opacity="0.9"/>
<circle cx="533.2" cy="448.0" r="1.0" fill-opacity="0.9"/>
<circle cx="530.7" cy="465.5" r="1.2" fill-opacity="0.9"/>
<circle cx="536.7" cy="448.1" r="0.8" fill-opacity="0.9"/>
<circle cx="528.5" cy="461.7" r="0.6" fill-opacity="0.9"/>
<circle cx="526.4" cy="452.0" r="0.8" fill-opacity="0.9"/>
<circle cx="531.3" cy="451.2" r="0.8" fill-opacity="0.9"/>
<circle cx="530.5" cy="466.2" r="1.0" fill-opacity="0.9"/>
<circle cx="539.0" cy="471.6" r="1.0" fill-opacity="0.9"/>
<circle cx="527.9" cy="472.9" r="0.8" fill-opacity="0.9"/>
<circle cx="536.8" cy="472.7" r="1.0" fill-opacity="0.9"/>
<circle cx="535.9" cy="466.5" r="1.0" fill-opacity="0.9"/>
<circle cx="534.2" cy="470.3" r="1.0" fill-opacity="0.9"/>
<circle cx="534.1" cy="464.0" r="1.2" fill-opacity="0.9"/>
<circle cx="536.4" cy="471.9" r="0.6" fill-opacity="0.9"/>
<circle cx="529.4" cy="468.9" r="0.8" fill-opacity="0.9"/>
<circle cx="536.7" cy="465.3" r="1.0" fill-opacity="0.9"/>
<circle cx="524.0" cy="474.9" r="0.6" fill-opacity="0.9"/>
<circle cx="536.6" cy="475.8" r="0.8" fill-opacity="0.9"/>
<circle cx="537.3" cy="478.4" r="0.6" fill-opacity="0.9"/>
<circle cx="532.9" cy="479.5" r="1.2" fill-opacity="0.9"/>
<circle cx="530.4" cy="462.4" r="0.6" fill-opacity="0.9"/>
<circle cx="533.0" cy="472.1" r="1.0" fill-opacity="0.9"/>
<circle cx="530.8" cy="472.7" r="0.6" fill-opacity="0.9"/>
<circle cx="525.7" cy="469.0" r="1.0" fill-opacity="0.9"/>
<circle cx="529.5" cy="478.6" r="1.0" fill-opacity="0.9"/>
<circle cx="534.3" cy="468.8" r="1.2" fill-opacity="0.9"/>
<circle cx="534.7" cy="468.3" r="1.2" fill-opacity="0.9"/>
<circle cx="536.4" cy="472.7" r="0.6" fill-opacity="0.9"/>
<circle cx="535.3" cy="471.9" r="0.6" fill-opacity="0.9"/>
<circle cx="531.7" cy="466.9" r="0.8" fill-opacity="0.9"/>
<circle cx="528.7" cy="479.9" r="0.6" fill-opacity="0.9"/>
<circle cx="533.7" cy="462.6" r="0.8" fill-opacity="0.9"/>
<circle cx="536.9" cy="474.0" r="0.8" fill-opacity="0.9"/>
<circle cx="536.0" cy="472.9" r="1.0" fill-opacity="0.9"/>
<circle cx="533.9" cy="472.6" r="0.8" fill-opacity="0.9"/>
<circle cx="533.4" cy="463.7" r="0.6" fill-opacity="0.9"/>
<circle cx="533.4" cy="472.3" r="0.6" fill-opacity="0.9"/>
<circle cx="538.2" cy="476.1" r="0.8" fill-opacity="0.9"/>
<circle cx="538.4" cy="468.3" r="1.2" fill-opacity="0.9"/>
<circle cx="536.7" cy="465.4" r="1.0" fill-opacity="0.9"/>
<circle cx="531.9" cy="465.9" r="1.0" fill-opacity="0.9"/>
</g></g>
<clipPath id="wd1"><circle cx="593.7" cy="465.1" r="27"/></clipPath>
<circle cx="593.7" cy="465.1" r="30" fill="#eef0f7" stroke="#a9aebc" stroke-width="0.9"/>
<circle cx="593.7" cy="465.1" r="28.4" fill="none" stroke="#fbfcff" stroke-width="2.2"/>
<circle cx="593.7" cy="465.1" r="27.2" fill="none" stroke="#c4c6d2" stroke-width="0.6"/>
<circle cx="593.7" cy="465.1" r="27" fill="url(#wellbg)"/>
<circle cx="593.7" cy="465.1" r="27" fill="#dcdce5"/>
<g clip-path="url(#wd1)">
<g filter="url(#blur3)">
<ellipse cx="600.4" cy="456.6" rx="8.8" ry="9.9" fill="#4b3bd6" fill-opacity="0.65"/>
</g><g fill="#3f2fd0" filter="url(#blur1)">
<ellipse cx="618.5" cy="458.1" rx="0.5" ry="0.3" fill-opacity="0.73" transform="rotate(43 618.5 458.1)"/>
<ellipse cx="591.8" cy="443.5" rx="0.8" ry="0.5" fill-opacity="0.67" transform="rotate(9 591.8 443.5)"/>
<circle cx="584.5" cy="459.9" r="0.8" fill-opacity="0.88"/>
<circle cx="605.8" cy="450.6" r="0.6" fill-opacity="0.76"/>
<circle cx="593.1" cy="470.1" r="0.4" fill-opacity="0.93"/>
<ellipse cx="608.1" cy="455.7" rx="1.3" ry="0.8" fill-opacity="0.66" transform="rotate(59 608.1 455.7)"/>
<circle cx="608.6" cy="467.4" r="0.5" fill-opacity="0.73"/>
<circle cx="573.9" cy="463.4" r="0.8" fill-opacity="0.86"/>
<circle cx="613.0" cy="452.3" r="1.5" fill-opacity="0.73"/>
<circle cx="604.9" cy="451.4" r="1.5" fill-opacity="0.86"/>
<circle cx="586.2" cy="454.1" r="0.6" fill-opacity="0.78"/>
<circle cx="601.4" cy="451.4" r="0.8" fill-opacity="0.76"/>
<circle cx="570.5" cy="454.6" r="1.2" fill-opacity="0.83"/>
<ellipse cx="616.0" cy="456.4" rx="2.0" ry="1.2" fill-opacity="0.92" transform="rotate(68 616.0 456.4)"/>
<circle cx="596.3" cy="446.9" r="0.6" fill-opacity="0.85"/>
<circle cx="574.6" cy="464.6" r="1.2" fill-opacity="0.74"/>
<circle cx="591.5" cy="446.7" r="0.6" fill-opacity="0.82"/>
<ellipse cx="615.1" cy="476.0" rx="1.6" ry="1.0" fill-opacity="0.89" transform="rotate(27 615.1 476.0)"/>
<circle cx="613.7" cy="472.8" r="0.6" fill-opacity="0.84"/>
<circle cx="613.6" cy="453.5" r="0.5" fill-opacity="0.69"/>
<circle cx="599.8" cy="489.2" r="0.8" fill-opacity="0.87"/>
<circle cx="608.6" cy="470.7" r="0.5" fill-opacity="0.63"/>
<circle cx="597.7" cy="463.9" r="1.2" fill-opacity="0.73"/>
<ellipse cx="611.5" cy="483.5" rx="1.6" ry="1.0" fill-opacity="0.84" transform="rotate(98 611.5 483.5)"/>
<ellipse cx="573.7" cy="452.5" rx="0.7" ry="0.4" fill-opacity="0.61" transform="rotate(88 573.7 452.5)"/>
<ellipse cx="613.1" cy="457.2" rx="1.6" ry="1.0" fill-opacity="0.72" transform="rotate(7 613.1 457.2)"/>
<circle cx="586.6" cy="483.5" r="1.0" fill-opacity="0.92"/>
<ellipse cx="594.6" cy="440.5" rx="1.6" ry="1.0" fill-opacity="0.94" transform="rotate(23 594.6 440.5)"/>
<ellipse cx="585.8" cy="452.5" rx="0.5" ry="0.3" fill-opacity="0.88" transform="rotate(32 585.8 452.5)"/>
<circle cx="570.4" cy="462.4" r="0.8" fill-opacity="0.65"/>
<circle cx="606.8" cy="461.7" r="1.0" fill-opacity="0.83"/>
<ellipse cx="585.6" cy="440.4" rx="1.6" ry="1.0" fill-opacity="0.61" transform="rotate(41 585.6 440.4)"/>
<circle cx="602.2" cy="480.8" r="0.5" fill-opacity="0.94"/>
<circle cx="617.9" cy="454.5" r="0.5" fill-opacity="0.63"/>
<circle cx="604.8" cy="471.2" r="1.5" fill-opacity="0.85"/>
<circle cx="593.0" cy="482.3" r="1.0" fill-opacity="0.65"/>
<circle cx="585.8" cy="472.1" r="1.0" fill-opacity="0.68"/>
<ellipse cx="602.8" cy="471.7" rx="0.7" ry="0.4" fill-opacity="0.61" transform="rotate(171 602.8 471.7)"/>
<circle cx="579.3" cy="468.4" r="1.2" fill-opacity="0.84"/>
<circle cx="594.5" cy="453.0" r="1.5" fill-opacity="0.78"/>
<circle cx="588.5" cy="462.2" r="0.8" fill-opacity="0.80"/>
<circle cx="612.7" cy="454.8" r="0.8" fill-opacity="0.78"/>
<circle cx="611.9" cy="455.3" r="0.6" fill-opacity="0.93"/>
<ellipse cx="584.8" cy="488.2" rx="1.0" ry="0.6" fill-opacity="0.71" transform="rotate(172 584.8 488.2)"/>
<circle cx="604.6" cy="443.8" r="0.4" fill-opacity="0.77"/>
<ellipse cx="599.0" cy="484.7" rx="0.5" ry="0.3" fill-opacity="0.61" transform="rotate(78 599.0 484.7)"/>
<circle cx="600.4" cy="462.2" r="1.5" fill-opacity="0.64"/>
<circle cx="578.0" cy="481.1" r="0.5" fill-opacity="0.74"/>
<circle cx="600.4" cy="471.5" r="0.4" fill-opacity="0.72"/>
<ellipse cx="584.2" cy="472.8" rx="0.5" ry="0.3" fill-opacity="0.83" transform="rotate(11 584.2 472.8)"/>
<circle cx="590.6" cy="446.7" r="0.6" fill-opacity="0.65"/>
<circle cx="580.7" cy="478.1" r="1.5" fill-opacity="0.93"/>
<circle cx="602.3" cy="441.0" r="1.5" fill-opacity="0.74"/>
<circle cx="605.1" cy="482.1" r="1.0" fill-opacity="0.84"/>
<circle cx="611.4" cy="455.2" r="1.5" fill-opacity="0.62"/>
<circle cx="602.5" cy="482.6" r="1.5" fill-opacity="0.62"/>
<circle cx="615.2" cy="478.0" r="1.5" fill-opacity="0.64"/>
<circle cx="590.0" cy="477.3" r="1.2" fill-opacity="0.72"/>
<circle cx="600.3" cy="477.6" r="0.5" fill-opacity="0.93"/>
<ellipse cx="594.0" cy="456.9" rx="1.3" ry="0.8" fill-opacity="0.78" transform="rotate(43 594.0 456.9)"/>
<ellipse cx="607.9" cy="454.1" rx="1.6" ry="1.0" fill-opacity="0.91" transform="rotate(91 607.9 454.1)"/>
<circle cx="597.8" cy="445.5" r="0.5" fill-opacity="0.85"/>
<ellipse cx="599.7" cy="449.8" rx="1.6" ry="1.0" fill-opacity="0.78" transform="rotate(123 599.7 449.8)"/>
<circle cx="591.7" cy="478.3" r="1.2" fill-opacity="0.85"/>
<circle cx="568.1" cy="469.6" r="0.6" fill-opacity="0.92"/>
<ellipse cx="614.6" cy="476.8" rx="1.6" ry="1.0" fill-opacity="0.82" transform="rotate(103 614.6 476.8)"/>
<circle cx="600.3" cy="450.1" r="1.2" fill-opacity="0.71"/>
<circle cx="568.7" cy="461.4" r="0.8" fill-opacity="0.89"/>
<circle cx="619.3" cy="467.9" r="1.2" fill-opacity="0.74"/>
<circle cx="599.3" cy="490.6" r="0.8" fill-opacity="0.87"/>
<circle cx="600.8" cy="486.8" r="1.0" fill-opacity="0.77"/>
<circle cx="591.8" cy="463.5" r="1.2" fill-opacity="0.69"/>
<circle cx="577.1" cy="457.8" r="0.5" fill-opacity="0.87"/>
<circle cx="578.8" cy="485.5" r="1.0" fill-opacity="0.83"/>
<circle cx="594.2" cy="446.7" r="1.2" fill-opacity="0.76"/>
<circle cx="606.6" cy="452.6" r="0.4" fill-opacity="0.72"/>
<ellipse cx="595.3" cy="439.5" rx="1.0" ry="0.6" fill-opacity="0.82" transform="rotate(34 595.3 439.5)"/>
<circle cx="611.4" cy="471.3" r="0.8" fill-opacity="0.65"/>
<circle cx="590.0" cy="482.8" r="0.4" fill-opacity="0.79"/>
<circle cx="580.7" cy="477.0" r="1.5" fill-opacity="0.77"/>
<circle cx="608.4" cy="481.5" r="1.2" fill-opacity="0.63"/>
<circle cx="600.3" cy="452.1" r="1.2" fill-opacity="0.71"/>
<circle cx="581.8" cy="450.2" r="0.4" fill-opacity="0.67"/>
<circle cx="573.6" cy="451.2" r="0.5" fill-opacity="0.82"/>
<circle cx="589.1" cy="477.0" r="0.8" fill-opacity="0.78"/>
<circle cx="601.9" cy="468.4" r="1.2" fill-opacity="0.73"/>
<circle cx="583.8" cy="476.3" r="0.4" fill-opacity="0.73"/>
<circle cx="569.0" cy="465.5" r="0.8" fill-opacity="0.92"/>
<circle cx="573.9" cy="472.7" r="0.6" fill-opacity="0.63"/>
<circle cx="594.6" cy="476.6" r="1.2" fill-opacity="0.66"/>
<circle cx="599.9" cy="472.6" r="0.6" fill-opacity="0.82"/>
<ellipse cx="574.2" cy="479.2" rx="0.8" ry="0.5" fill-opacity="0.85" transform="rotate(152 574.2 479.2)"/>
<circle cx="571.7" cy="464.7" r="0.6" fill-opacity="0.86"/>
<circle cx="611.2" cy="446.3" r="1.5" fill-opacity="0.85"/>
<circle cx="573.0" cy="460.9" r="0.4" fill-opacity="0.74"/>
<circle cx="605.5" cy="488.2" r="0.6" fill-opacity="0.63"/>
<ellipse cx="606.9" cy="458.2" rx="1.0" ry="0.6" fill-opacity="0.61" transform="rotate(89 606.9 458.2)"/>
<circle cx="597.4" cy="471.5" r="1.2" fill-opacity="0.75"/>
<circle cx="581.3" cy="461.7" r="1.5" fill-opacity="0.79"/>
<circle cx="569.0" cy="470.0" r="0.6" fill-opacity="0.92"/>
<circle cx="602.0" cy="470.7" r="0.5" fill-opacity="0.65"/>
<ellipse cx="588.6" cy="471.2" rx="0.7" ry="0.4" fill-opacity="0.68" transform="rotate(156 588.6 471.2)"/>
<circle cx="618.3" cy="472.6" r="1.2" fill-opacity="0.62"/>
<circle cx="608.8" cy="484.3" r="0.8" fill-opacity="0.70"/>
<circle cx="585.0" cy="483.3" r="0.4" fill-opacity="0.87"/>
<circle cx="580.9" cy="454.5" r="0.4" fill-opacity="0.77"/>
<circle cx="582.8" cy="454.9" r="1.5" fill-opacity="0.63"/>
<circle cx="572.1" cy="463.7" r="0.8" fill-opacity="0.89"/>
<circle cx="577.4" cy="469.9" r="1.0" fill-opacity="0.91"/>
<circle cx="574.3" cy="471.2" r="0.4" fill-opacity="0.84"/>
<circle cx="600.0" cy="461.4" r="0.6" fill-opacity="0.85"/>
<ellipse cx="593.3" cy="486.8" rx="0.7" ry="0.4" fill-opacity="0.65" transform="rotate(171 593.3 486.8)"/>
<circle cx="609.0" cy="463.5" r="1.5" fill-opacity="0.62"/>
<ellipse cx="604.2" cy="457.4" rx="1.0" ry="0.6" fill-opacity="0.61" transform="rotate(178 604.2 457.4)"/>
<circle cx="587.2" cy="465.0" r="0.5" fill-opacity="0.60"/>
<circle cx="599.7" cy="450.9" r="1.0" fill-opacity="0.65"/>
<ellipse cx="584.1" cy="465.6" rx="0.5" ry="0.3" fill-opacity="0.76" transform="rotate(13 584.1 465.6)"/>
<circle cx="578.1" cy="451.1" r="0.6" fill-opacity="0.90"/>
<circle cx="612.2" cy="452.4" r="1.0" fill-opacity="0.84"/>
<circle cx="569.6" cy="463.4" r="0.5" fill-opacity="0.67"/>
<ellipse cx="583.3" cy="475.2" rx="1.0" ry="0.6" fill-opacity="0.65" transform="rotate(80 583.3 475.2)"/>
<ellipse cx="600.8" cy="442.3" rx="1.3" ry="0.8" fill-opacity="0.70" transform="rotate(135 600.8 442.3)"/>
<circle cx="596.2" cy="438.9" r="0.5" fill-opacity="0.65"/>
<circle cx="585.5" cy="462.6" r="1.0" fill-opacity="0.67"/>
<ellipse cx="600.6" cy="484.1" rx="1.6" ry="1.0" fill-opacity="0.61" transform="rotate(67 600.6 484.1)"/>
<circle cx="588.3" cy="447.6" r="0.4" fill-opacity="0.90"/>
<ellipse cx="595.3" cy="475.0" rx="0.8" ry="0.5" fill-opacity="0.67" transform="rotate(27 595.3 475.0)"/>
<circle cx="607.7" cy="482.1" r="0.5" fill-opacity="0.63"/>
<ellipse cx="584.1" cy="442.3" rx="1.6" ry="1.0" fill-opacity="0.67" transform="rotate(83 584.1 442.3)"/>
<circle cx="589.5" cy="451.8" r="1.0" fill-opacity="0.74"/>
<ellipse cx="574.3" cy="476.5" rx="1.0" ry="0.6" fill-opacity="0.90" transform="rotate(162 574.3 476.5)"/>
<ellipse cx="589.6" cy="451.9" rx="0.5" ry="0.3" fill-opacity="0.72" transform="rotate(137 589.6 451.9)"/>
<circle cx="590.9" cy="444.9" r="1.2" fill-opacity="0.67"/>
<circle cx="596.8" cy="443.2" r="1.5" fill-opacity="0.91"/>
<ellipse cx="609.8" cy="462.1" rx="1.3" ry="0.8" fill-opacity="0.67" transform="rotate(121 609.8 462.1)"/>
<circle cx="572.0" cy="472.9" r="1.5" fill-opacity="0.71"/>
<circle cx="603.6" cy="483.2" r="1.5" fill-opacity="0.87"/>
<circle cx="582.3" cy="448.5" r="0.5" fill-opacity="0.71"/>
<ellipse cx="600.1" cy="488.5" rx="0.8" ry="0.5" fill-opacity="0.88" transform="rotate(7 600.1 488.5)"/>
<circle cx="598.5" cy="479.1" r="0.6" fill-opacity="0.88"/>
<circle cx="581.4" cy="444.4" r="0.4" fill-opacity="0.89"/>
<ellipse cx="613.7" cy="467.4" rx="0.7" ry="0.4" fill-opacity="0.66" transform="rotate(96 613.7 467.4)"/>
<circle cx="589.9" cy="444.4" r="0.8" fill-opacity="0.83"/>
<ellipse cx="570.0" cy="465.8" rx="0.7" ry="0.4" fill-opacity="0.70" transform="rotate(58 570.0 465.8)"/>
<circle cx="600.2" cy="486.4" r="1.5" fill-opacity="0.82"/>
<ellipse cx="580.5" cy="475.7" rx="1.6" ry="1.0" fill-opacity="0.62" transform="rotate(170 580.5 475.7)"/>
<circle cx="593.8" cy="490.8" r="1.2" fill-opacity="0.75"/>
<circle cx="610.0" cy="462.0" r="0.8" fill-opacity="0.70"/>
<circle cx="594.1" cy="471.3" r="1.0" fill-opacity="0.63"/>
<circle cx="614.2" cy="457.8" r="0.4" fill-opacity="0.75"/>
<circle cx="595.3" cy="478.8" r="0.6" fill-opacity="0.78"/>
<circle cx="597.8" cy="445.3" r="1.2" fill-opacity="0.85"/>
<ellipse cx="592.9" cy="469.6" rx="0.5" ry="0.3" fill-opacity="0.65" transform="rotate(82 592.9 469.6)"/>
<circle cx="594.0" cy="470.9" r="0.5" fill-opacity="0.93"/>
<circle cx="609.6" cy="476.9" r="0.4" fill-opacity="0.65"/>
<circle cx="592.4" cy="460.4" r="1.0" fill-opacity="0.77"/>
<circle cx="608.5" cy="459.7" r="0.6" fill-opacity="0.63"/>
<circle cx="580.6" cy="481.1" r="0.6" fill-opacity="0.93"/>
<circle cx="578.1" cy="447.2" r="0.6" fill-opacity="0.94"/>
<circle cx="609.0" cy="467.6" r="1.5" fill-opacity="0.72"/>
<circle cx="612.8" cy="462.1" r="0.4" fill-opacity="0.63"/>
<circle cx="573.7" cy="459.9" r="0.8" fill-opacity="0.68"/>
<circle cx="602.3" cy="484.0" r="0.4" fill-opacity="0.94"/>
<ellipse cx="603.8" cy="445.9" rx="0.8" ry="0.5" fill-opacity="0.90" transform="rotate(63 603.8 445.9)"/>
<circle cx="570.3" cy="454.8" r="0.5" fill-opacity="0.92"/>
<ellipse cx="609.4" cy="478.2" rx="0.5" ry="0.3" fill-opacity="0.79" transform="rotate(26 609.4 478.2)"/>
<circle cx="610.6" cy="465.8" r="1.0" fill-opacity="0.80"/>
<circle cx="597.2" cy="484.0" r="1.0" fill-opacity="0.75"/>
<circle cx="595.8" cy="454.9" r="0.5" fill-opacity="0.73"/>
<circle cx="613.5" cy="461.8" r="1.0" fill-opacity="0.93"/>
<circle cx="574.2" cy="451.1" r="1.5" fill-opacity="0.66"/>
<ellipse cx="585.8" cy="459.8" rx="0.8" ry="0.5" fill-opacity="0.69" transform="rotate(47 585.8 459.8)"/>
<circle cx="614.7" cy="462.1" r="1.0" fill-opacity="0.94"/>
<ellipse cx="582.4" cy="467.3" rx="1.0" ry="0.6" fill-opacity="0.68" transform="rotate(161 582.4 467.3)"/>
<circle cx="616.7" cy="458.0" r="1.0" fill-opacity="0.75"/>
<circle cx="597.4" cy="463.4" r="1.0" fill-opacity="0.69"/>
<circle cx="591.4" cy="483.0" r="0.8" fill-opacity="0.90"/>
<circle cx="572.7" cy="470.2" r="1.0" fill-opacity="0.66"/>
<circle cx="587.6" cy="490.0" r="0.6" fill-opacity="0.78"/>
<circle cx="612.0" cy="451.4" r="1.2" fill-opacity="0.74"/>
<circle cx="577.3" cy="472.5" r="1.0" fill-opacity="0.94"/>
<circle cx="609.9" cy="461.7" r="1.0" fill-opacity="0.85"/>
<circle cx="592.0" cy="439.8" r="1.0" fill-opacity="0.65"/>
<circle cx="582.8" cy="446.8" r="0.8" fill-opacity="0.85"/>
<circle cx="591.8" cy="454.3" r="0.6" fill-opacity="0.80"/>
<circle cx="576.1" cy="477.1" r="1.5" fill-opacity="0.69"/>
<ellipse cx="592.6" cy="467.7" rx="1.3" ry="0.8" fill-opacity="0.76" transform="rotate(29 592.6 467.7)"/>
<circle cx="617.9" cy="466.7" r="0.6" fill-opacity="0.86"/>
<circle cx="604.2" cy="486.9" r="0.6" fill-opacity="0.78"/>
<circle cx="573.0" cy="467.7" r="0.5" fill-opacity="0.63"/>
<ellipse cx="598.3" cy="465.6" rx="1.0" ry="0.6" fill-opacity="0.85" transform="rotate(2 598.3 465.6)"/>
<circle cx="584.9" cy="481.2" r="1.0" fill-opacity="0.91"/>
<circle cx="580.8" cy="449.7" r="0.5" fill-opacity="0.71"/>
<circle cx="581.9" cy="485.3" r="0.8" fill-opacity="0.85"/>
<ellipse cx="580.0" cy="468.1" rx="1.3" ry="0.8" fill-opacity="0.73" transform="rotate(92 580.0 468.1)"/>
<circle cx="608.5" cy="443.4" r="0.5" fill-opacity="0.79"/>
<circle cx="581.3" cy="448.2" r="0.5" fill-opacity="0.68"/>
<circle cx="606.9" cy="449.7" r="1.0" fill-opacity="0.60"/>
<ellipse cx="596.1" cy="442.4" rx="1.6" ry="1.0" fill-opacity="0.67" transform="rotate(179 596.1 442.4)"/>
<circle cx="584.9" cy="458.0" r="0.8" fill-opacity="0.88"/>
<ellipse cx="601.8" cy="474.1" rx="1.6" ry="1.0" fill-opacity="0.82" transform="rotate(116 601.8 474.1)"/>
<ellipse cx="595.8" cy="453.5" rx="0.7" ry="0.4" fill-opacity="0.82" transform="rotate(5 595.8 453.5)"/>
<ellipse cx="618.5" cy="466.7" rx="0.8" ry="0.5" fill-opacity="0.73" transform="rotate(97 618.5 466.7)"/>
<ellipse cx="612.4" cy="483.1" rx="0.7" ry="0.4" fill-opacity="0.91" transform="rotate(116 612.4 483.1)"/>
<ellipse cx="611.6" cy="453.8" rx="0.8" ry="0.5" fill-opacity="0.77" transform="rotate(19 611.6 453.8)"/>
<circle cx="615.0" cy="451.9" r="1.2" fill-opacity="0.70"/>
<ellipse cx="618.3" cy="469.4" rx="0.7" ry="0.4" fill-opacity="0.92" transform="rotate(47 618.3 469.4)"/>
<circle cx="578.3" cy="455.7" r="0.5" fill-opacity="0.84"/>
<circle cx="587.3" cy="466.8" r="0.5" fill-opacity="0.72"/>
<circle cx="586.0" cy="485.9" r="0.4" fill-opacity="0.65"/>
<ellipse cx="597.7" cy="463.0" rx="0.5" ry="0.3" fill-opacity="0.73" transform="rotate(18 597.7 463.0)"/>
<circle cx="568.3" cy="464.4" r="1.2" fill-opacity="0.72"/>
<circle cx="615.6" cy="459.1" r="0.5" fill-opacity="0.87"/>
<circle cx="593.9" cy="449.6" r="0.5" fill-opacity="0.90"/>
<circle cx="593.9" cy="455.3" r="1.2" fill-opacity="0.75"/>
<ellipse cx="580.2" cy="481.9" rx="0.8" ry="0.5" fill-opacity="0.82" transform="rotate(29 580.2 481.9)"/>
<circle cx="601.6" cy="465.4" r="0.5" fill-opacity="0.90"/>
<circle cx="601.8" cy="477.2" r="1.0" fill-opacity="0.92"/>
<circle cx="611.9" cy="484.2" r="0.5" fill-opacity="0.87"/>
<circle cx="595.6" cy="480.3" r="0.4" fill-opacity="0.83"/>
<circle cx="599.0" cy="485.8" r="0.4" fill-opacity="0.72"/>
<circle cx="612.8" cy="455.4" r="0.6" fill-opacity="0.78"/>
<circle cx="611.9" cy="481.7" r="0.5" fill-opacity="0.73"/>
<circle cx="573.3" cy="476.1" r="0.5" fill-opacity="0.82"/>
<circle cx="590.9" cy="456.2" r="1.0" fill-opacity="0.85"/>
<circle cx="603.2" cy="484.4" r="1.0" fill-opacity="0.63"/>
<ellipse cx="602.7" cy="462.0" rx="0.7" ry="0.4" fill-opacity="0.76" transform="rotate(103 602.7 462.0)"/>
<circle cx="579.4" cy="469.2" r="0.4" fill-opacity="0.74"/>
<circle cx="572.6" cy="456.2" r="0.6" fill-opacity="0.68"/>
<circle cx="588.8" cy="467.7" r="0.5" fill-opacity="0.93"/>
<circle cx="602.6" cy="452.2" r="0.8" fill-opacity="0.9"/>
<circle cx="609.2" cy="456.2" r="1.2" fill-opacity="0.9"/>
<circle cx="596.8" cy="457.5" r="0.6" fill-opacity="0.9"/>
<circle cx="596.7" cy="446.3" r="0.8" fill-opacity="0.9"/>
<circle cx="596.0" cy="458.7" r="1.2" fill-opacity="0.9"/>
<circle cx="604.6" cy="446.5" r="0.8" fill-opacity="0.9"/>
<circle cx="599.7" cy="462.8" r="1.0" fill-opacity="0.9"/>
<circle cx="590.6" cy="451.6" r="1.0" fill-opacity="0.9"/>
<circle cx="597.8" cy="463.9" r="1.2" fill-opacity="0.9"/>
<circle cx="604.9" cy="450.9" r="1.0" fill-opacity="0.9"/>
<circle cx="605.0" cy="456.1" r="1.2" fill-opacity="0.9"/>
<circle cx="598.1" cy="465.4" r="1.2" fill-opacity="0.9"/>
<circle cx="594.8" cy="453.5" r="0.6" fill-opacity="0.9"/>
<circle cx="595.3" cy="454.2" r="1.2" fill-opacity="0.9"/>
<circle cx="606.0" cy="451.2" r="0.6" fill-opacity="0.9"/>
<circle cx="608.3" cy="449.6" r="1.2" fill-opacity="0.9"/>
<circle cx="594.7" cy="455.6" r="0.8" fill-opacity="0.9"/>
<circle cx="597.9" cy="459.5" r="0.8" fill-opacity="0.9"/>
<circle cx="607.6" cy="455.8" r="0.8" fill-opacity="0.9"/>
<circle cx="590.0" cy="456.1" r="0.8" fill-opacity="0.9"/>
<circle cx="604.5" cy="451.6" r="1.2" fill-opacity="0.9"/>
<circle cx="605.4" cy="463.3" r="1.0" fill-opacity="0.9"/>
<circle cx="598.2" cy="451.5" r="0.6" fill-opacity="0.9"/>
<circle cx="598.6" cy="457.4" r="1.2" fill-opacity="0.9"/>
<circle cx="594.6" cy="454.7" r="0.8" fill-opacity="0.9"/>
<circle cx="599.0" cy="445.9" r="0.8" fill-opacity="0.9"/>
<circle cx="591.5" cy="451.7" r="1.0" fill-opacity="0.9"/>
<circle cx="592.3" cy="453.6" r="0.8" fill-opacity="0.9"/>
<circle cx="608.9" cy="458.1" r="1.2" fill-opacity="0.9"/>
<circle cx="591.1" cy="455.8" r="0.6" fill-opacity="0.9"/>
<circle cx="601.4" cy="451.4" r="1.0" fill-opacity="0.9"/>
<circle cx="609.1" cy="452.7" r="0.6" fill-opacity="0.9"/>
<circle cx="595.8" cy="457.7" r="0.6" fill-opacity="0.9"/>
<circle cx="601.9" cy="462.5" r="1.2" fill-opacity="0.9"/>
<circle cx="599.7" cy="465.1" r="1.0" fill-opacity="0.9"/>
<circle cx="606.4" cy="458.6" r="1.2" fill-opacity="0.9"/>
<circle cx="597.7" cy="452.4" r="1.2" fill-opacity="0.9"/>
<circle cx="606.5" cy="464.1" r="1.0" fill-opacity="0.9"/>
<circle cx="610.1" cy="461.9" r="0.6" fill-opacity="0.9"/>
<circle cx="591.6" cy="462.0" r="0.8" fill-opacity="0.9"/>
<circle cx="607.0" cy="457.6" r="1.2" fill-opacity="0.9"/>
<circle cx="592.2" cy="460.8" r="1.0" fill-opacity="0.9"/>
<circle cx="601.1" cy="457.2" r="0.8" fill-opacity="0.9"/>
<circle cx="608.3" cy="457.9" r="0.6" fill-opacity="0.9"/>
<circle cx="603.8" cy="462.0" r="0.6" fill-opacity="0.9"/>
<circle cx="608.8" cy="457.7" r="1.0" fill-opacity="0.9"/>
<circle cx="603.3" cy="454.3" r="0.8" fill-opacity="0.9"/>
<circle cx="595.9" cy="459.7" r="0.8" fill-opacity="0.9"/>
<circle cx="608.1" cy="450.8" r="0.6" fill-opacity="0.9"/>
<circle cx="597.3" cy="454.8" r="0.8" fill-opacity="0.9"/>
<circle cx="609.9" cy="459.8" r="0.8" fill-opacity="0.9"/>
<circle cx="598.4" cy="452.0" r="0.6" fill-opacity="0.9"/>
<circle cx="602.2" cy="460.3" r="0.8" fill-opacity="0.9"/>
<circle cx="596.8" cy="451.5" r="0.6" fill-opacity="0.9"/>
<circle cx="604.0" cy="452.8" r="0.8" fill-opacity="0.9"/>
<circle cx="590.7" cy="451.6" r="0.6" fill-opacity="0.9"/>
<circle cx="594.6" cy="464.4" r="0.8" fill-opacity="0.9"/>
<circle cx="601.7" cy="462.9" r="0.6" fill-opacity="0.9"/>
<circle cx="601.9" cy="468.6" r="1.0" fill-opacity="0.9"/>
<circle cx="597.0" cy="451.2" r="1.0" fill-opacity="0.9"/>
<circle cx="602.7" cy="456.6" r="1.0" fill-opacity="0.9"/>
<circle cx="611.2" cy="454.8" r="0.8" fill-opacity="0.9"/>
<circle cx="595.3" cy="452.1" r="1.2" fill-opacity="0.9"/>
<circle cx="607.6" cy="456.4" r="0.6" fill-opacity="0.9"/>
<circle cx="604.9" cy="455.0" r="0.8" fill-opacity="0.9"/>
<circle cx="608.2" cy="452.1" r="0.6" fill-opacity="0.9"/>
<circle cx="592.1" cy="458.9" r="1.2" fill-opacity="0.9"/>
<circle cx="607.0" cy="458.0" r="1.2" fill-opacity="0.9"/>
<circle cx="594.1" cy="463.5" r="1.2" fill-opacity="0.9"/>
<circle cx="603.7" cy="455.2" r="1.0" fill-opacity="0.9"/>
<circle cx="598.9" cy="460.8" r="1.0" fill-opacity="0.9"/>
<circle cx="594.2" cy="457.9" r="0.6" fill-opacity="0.9"/>
<circle cx="599.2" cy="445.7" r="0.6" fill-opacity="0.9"/>
<circle cx="604.9" cy="460.9" r="1.2" fill-opacity="0.9"/>
<circle cx="609.2" cy="452.5" r="0.8" fill-opacity="0.9"/>
<circle cx="600.5" cy="460.0" r="0.6" fill-opacity="0.9"/>
<circle cx="603.2" cy="459.2" r="1.2" fill-opacity="0.9"/>
<circle cx="592.9" cy="448.2" r="0.6" fill-opacity="0.9"/>
<circle cx="605.3" cy="466.8" r="0.8" fill-opacity="0.9"/>
<circle cx="601.9" cy="453.6" r="1.0" fill-opacity="0.9"/>
<circle cx="592.4" cy="455.5" r="1.0" fill-opacity="0.9"/>
<circle cx="608.6" cy="464.4" r="0.8" fill-opacity="0.9"/>
<circle cx="601.1" cy="450.0" r="0.6" fill-opacity="0.9"/>
<circle cx="605.2" cy="467.3" r="0.6" fill-opacity="0.9"/>
<circle cx="595.2" cy="446.6" r="1.2" fill-opacity="0.9"/>
<circle cx="591.8" cy="458.6" r="0.6" fill-opacity="0.9"/>
<circle cx="606.3" cy="446.6" r="1.0" fill-opacity="0.9"/>
<circle cx="597.9" cy="451.4" r="1.0" fill-opacity="0.9"/>
<circle cx="602.6" cy="444.9" r="0.6" fill-opacity="0.9"/>
<circle cx="602.8" cy="461.2" r="1.2" fill-opacity="0.9"/>
<circle cx="606.2" cy="456.3" r="1.2" fill-opacity="0.9"/>
<circle cx="606.1" cy="456.3" r="0.8" fill-opacity="0.9"/>
<circle cx="605.1" cy="451.3" r="0.8" fill-opacity="0.9"/>
<circle cx="602.9" cy="464.6" r="0.6" fill-opacity="0.9"/>
<circle cx="591.5" cy="457.4" r="1.0" fill-opacity="0.9"/>
<circle cx="599.8" cy="453.7" r="0.6" fill-opacity="0.9"/>
<circle cx="591.9" cy="461.0" r="0.8" fill-opacity="0.9"/>
<circle cx="602.9" cy="449.4" r="0.6" fill-opacity="0.9"/>
<circle cx="602.4" cy="445.9" r="1.2" fill-opacity="0.9"/>
<circle cx="599.5" cy="464.7" r="1.0" fill-opacity="0.9"/>
<circle cx="600.4" cy="445.2" r="0.8" fill-opacity="0.9"/>
<circle cx="600.7" cy="445.3" r="0.8" fill-opacity="0.9"/>
<circle cx="604.4" cy="452.5" r="0.6" fill-opacity="0.9"/>
<circle cx="600.5" cy="450.2" r="0.8" fill-opacity="0.9"/>
<circle cx="594.8" cy="461.7" r="0.6" fill-opacity="0.9"/>
<circle cx="598.6" cy="452.6" r="0.6" fill-opacity="0.9"/>
<circle cx="605.1" cy="458.6" r="1.0" fill-opacity="0.9"/>
<circle cx="590.6" cy="454.0" r="0.8" fill-opacity="0.9"/>
<circle cx="593.9" cy="456.7" r="0.6" fill-opacity="0.9"/>
<circle cx="597.4" cy="445.0" r="0.8" fill-opacity="0.9"/>
<circle cx="605.1" cy="460.5" r="0.6" fill-opacity="0.9"/>
<circle cx="593.8" cy="448.8" r="0.6" fill-opacity="0.9"/>
<circle cx="604.9" cy="446.0" r="0.8" fill-opacity="0.9"/>
<circle cx="596.3" cy="446.2" r="1.2" fill-opacity="0.9"/>
<circle cx="591.2" cy="459.7" r="0.6" fill-opacity="0.9"/>
<circle cx="607.2" cy="458.5" r="0.8" fill-opacity="0.9"/>
<circle cx="601.9" cy="453.2" r="1.2" fill-opacity="0.9"/>
<circle cx="591.6" cy="454.9" r="0.8" fill-opacity="0.9"/>
<circle cx="597.1" cy="467.8" r="0.6" fill-opacity="0.9"/>
<circle cx="598.6" cy="456.4" r="0.6" fill-opacity="0.9"/>
</g></g>
<clipPath id="wd2"><circle cx="529.9" cy="526.4" r="27"/></clipPath>
<circle cx="529.9" cy="526.4" r="30" fill="#eef0f7" stroke="#a9aebc" stroke-width="0.9"/>
<circle cx="529.9" cy="526.4" r="28.4" fill="none" stroke="#fbfcff" stroke-width="2.2"/>
<circle cx="529.9" cy="526.4" r="27.2" fill="none" stroke="#c4c6d2" stroke-width="0.6"/>
<circle cx="529.9" cy="526.4" r="27" fill="url(#wellbg)"/>
<circle cx="529.9" cy="526.4" r="27" fill="#dcdce5"/>
<g clip-path="url(#wd2)">
<g filter="url(#blur3)">
<ellipse cx="531.9" cy="522.0" rx="5.6" ry="6.3" fill="#4b3bd6" fill-opacity="0.4"/>
</g><g fill="#3f2fd0" filter="url(#blur1)">
<circle cx="531.4" cy="545.9" r="0.6" fill-opacity="0.77"/>
<ellipse cx="511.9" cy="516.4" rx="1.0" ry="0.6" fill-opacity="0.68" transform="rotate(120 511.9 516.4)"/>
<circle cx="510.9" cy="521.4" r="0.75" fill-opacity="0.65"/>
<circle cx="513.6" cy="507.9" r="0.9" fill-opacity="0.61"/>
<ellipse cx="531.7" cy="516.0" rx="1.2" ry="0.7" fill-opacity="0.87" transform="rotate(68 531.7 516.0)"/>
<circle cx="507.8" cy="530.2" r="0.75" fill-opacity="0.92"/>
<circle cx="511.2" cy="540.9" r="0.75" fill-opacity="0.65"/>
<ellipse cx="526.6" cy="530.2" rx="1.0" ry="0.6" fill-opacity="0.94" transform="rotate(111 526.6 530.2)"/>
<circle cx="534.3" cy="502.3" r="0.75" fill-opacity="0.74"/>
<ellipse cx="517.9" cy="542.7" rx="1.2" ry="0.7" fill-opacity="0.72" transform="rotate(7 517.9 542.7)"/>
<circle cx="546.3" cy="505.7" r="1.1" fill-opacity="0.84"/>
<circle cx="520.9" cy="543.7" r="0.9" fill-opacity="0.85"/>
<ellipse cx="535.7" cy="549.8" rx="1.2" ry="0.7" fill-opacity="0.64" transform="rotate(123 535.7 549.8)"/>
<circle cx="545.9" cy="505.5" r="0.35" fill-opacity="0.62"/>
<circle cx="532.9" cy="524.1" r="0.75" fill-opacity="0.91"/>
<circle cx="549.9" cy="532.1" r="0.35" fill-opacity="0.81"/>
<circle cx="505.7" cy="518.4" r="0.6" fill-opacity="0.95"/>
<circle cx="527.2" cy="533.2" r="0.9" fill-opacity="0.93"/>
<ellipse cx="544.0" cy="523.8" rx="0.8" ry="0.5" fill-opacity="0.61" transform="rotate(86 544.0 523.8)"/>
<circle cx="519.8" cy="550.3" r="0.75" fill-opacity="0.90"/>
<circle cx="511.3" cy="542.6" r="1.1" fill-opacity="0.82"/>
<circle cx="547.5" cy="519.5" r="0.75" fill-opacity="0.85"/>
<circle cx="546.0" cy="519.6" r="0.6" fill-opacity="0.79"/>
<circle cx="546.9" cy="527.6" r="0.9" fill-opacity="0.73"/>
<circle cx="521.7" cy="521.3" r="1.1" fill-opacity="0.76"/>
<ellipse cx="523.1" cy="512.2" rx="1.4" ry="0.9" fill-opacity="0.77" transform="rotate(150 523.1 512.2)"/>
<ellipse cx="550.1" cy="534.5" rx="0.8" ry="0.5" fill-opacity="0.76" transform="rotate(151 550.1 534.5)"/>
<circle cx="520.9" cy="519.8" r="0.45" fill-opacity="0.73"/>
<ellipse cx="517.9" cy="518.2" rx="1.0" ry="0.6" fill-opacity="0.88" transform="rotate(145 517.9 518.2)"/>
<ellipse cx="526.0" cy="517.6" rx="1.2" ry="0.7" fill-opacity="0.88" transform="rotate(61 526.0 517.6)"/>
<circle cx="519.7" cy="545.7" r="1.1" fill-opacity="0.64"/>
<circle cx="523.2" cy="540.2" r="0.45" fill-opacity="0.90"/>
<ellipse cx="537.4" cy="539.8" rx="1.4" ry="0.9" fill-opacity="0.80" transform="rotate(69 537.4 539.8)"/>
<circle cx="531.3" cy="535.5" r="0.9" fill-opacity="0.71"/>
<circle cx="540.3" cy="509.2" r="0.6" fill-opacity="0.89"/>
<ellipse cx="547.8" cy="537.1" rx="1.2" ry="0.7" fill-opacity="0.70" transform="rotate(69 547.8 537.1)"/>
<circle cx="509.3" cy="531.0" r="0.6" fill-opacity="0.74"/>
<circle cx="539.1" cy="521.4" r="0.35" fill-opacity="0.89"/>
<circle cx="516.3" cy="513.2" r="0.9" fill-opacity="0.92"/>
<circle cx="533.9" cy="548.9" r="1.1" fill-opacity="0.94"/>
<circle cx="505.8" cy="519.6" r="0.35" fill-opacity="0.94"/>
<circle cx="539.5" cy="535.4" r="0.35" fill-opacity="0.84"/>
<circle cx="552.2" cy="514.8" r="0.75" fill-opacity="0.60"/>
<ellipse cx="529.6" cy="515.4" rx="0.8" ry="0.5" fill-opacity="0.61" transform="rotate(137 529.6 515.4)"/>
<ellipse cx="507.9" cy="539.6" rx="1.2" ry="0.7" fill-opacity="0.64" transform="rotate(138 507.9 539.6)"/>
<ellipse cx="506.7" cy="529.7" rx="0.8" ry="0.5" fill-opacity="0.64" transform="rotate(30 506.7 529.7)"/>
<circle cx="541.1" cy="547.2" r="0.45" fill-opacity="0.60"/>
<circle cx="512.9" cy="508.6" r="0.35" fill-opacity="0.69"/>
<circle cx="515.8" cy="513.5" r="0.35" fill-opacity="0.87"/>
<ellipse cx="536.1" cy="526.5" rx="0.6" ry="0.4" fill-opacity="0.62" transform="rotate(123 536.1 526.5)"/>
<circle cx="554.1" cy="522.5" r="0.35" fill-opacity="0.77"/>
<circle cx="533.8" cy="532.3" r="0.75" fill-opacity="0.81"/>
<circle cx="522.5" cy="535.3" r="0.6" fill-opacity="0.64"/>
<circle cx="552.4" cy="526.9" r="0.35" fill-opacity="0.62"/>
<circle cx="509.2" cy="531.6" r="0.9" fill-opacity="0.88"/>
<circle cx="517.4" cy="514.3" r="0.6" fill-opacity="0.87"/>
<circle cx="519.6" cy="550.1" r="0.75" fill-opacity="0.69"/>
<circle cx="508.4" cy="521.5" r="0.35" fill-opacity="0.68"/>
<circle cx="532.9" cy="529.6" r="0.6" fill-opacity="0.91"/>
<circle cx="533.4" cy="513.3" r="0.75" fill-opacity="0.93"/>
<circle cx="527.1" cy="502.1" r="0.9" fill-opacity="0.83"/>
<circle cx="527.9" cy="506.6" r="0.35" fill-opacity="0.85"/>
<ellipse cx="517.2" cy="528.5" rx="1.0" ry="0.6" fill-opacity="0.63" transform="rotate(25 517.2 528.5)"/>
<circle cx="521.1" cy="512.7" r="0.35" fill-opacity="0.90"/>
<circle cx="538.8" cy="527.8" r="0.75" fill-opacity="0.93"/>
<circle cx="509.1" cy="515.1" r="0.35" fill-opacity="0.80"/>
<circle cx="517.2" cy="524.1" r="0.9" fill-opacity="0.93"/>
<ellipse cx="543.9" cy="532.1" rx="1.2" ry="0.7" fill-opacity="0.63" transform="rotate(46 543.9 532.1)"/>
<circle cx="519.0" cy="512.2" r="1.1" fill-opacity="0.74"/>
<circle cx="518.7" cy="538.7" r="0.6" fill-opacity="0.94"/>
<circle cx="520.8" cy="535.5" r="0.75" fill-opacity="0.94"/>
<circle cx="512.7" cy="536.5" r="0.9" fill-opacity="0.78"/>
<ellipse cx="508.8" cy="528.6" rx="0.6" ry="0.4" fill-opacity="0.77" transform="rotate(123 508.8 528.6)"/>
<circle cx="546.4" cy="516.9" r="0.75" fill-opacity="0.90"/>
<circle cx="545.0" cy="543.8" r="0.45" fill-opacity="0.71"/>
<circle cx="532.3" cy="548.3" r="0.6" fill-opacity="0.90"/>
<circle cx="513.2" cy="515.0" r="0.6" fill-opacity="0.71"/>
<ellipse cx="527.2" cy="550.0" rx="0.6" ry="0.4" fill-opacity="0.73" transform="rotate(82 527.2 550.0)"/>
<circle cx="505.4" cy="529.1" r="0.75" fill-opacity="0.77"/>
<circle cx="515.2" cy="515.8" r="1.1" fill-opacity="0.77"/>
<circle cx="525.4" cy="502.3" r="0.75" fill-opacity="0.91"/>
<circle cx="554.1" cy="533.6" r="0.45" fill-opacity="0.87"/>
<ellipse cx="541.1" cy="531.6" rx="0.8" ry="0.5" fill-opacity="0.67" transform="rotate(66 541.1 531.6)"/>
<circle cx="543.5" cy="542.3" r="1.1" fill-opacity="0.91"/>
<ellipse cx="529.1" cy="551.0" rx="0.8" ry="0.5" fill-opacity="0.63" transform="rotate(21 529.1 551.0)"/>
<circle cx="534.6" cy="524.7" r="1.0" fill-opacity="0.9"/>
<circle cx="536.5" cy="523.2" r="1.0" fill-opacity="0.9"/>
<circle cx="535.9" cy="522.2" r="1.2" fill-opacity="0.9"/>
<circle cx="530.5" cy="523.5" r="1.2" fill-opacity="0.9"/>
<circle cx="527.9" cy="525.6" r="0.6" fill-opacity="0.9"/>
<circle cx="533.3" cy="520.6" r="1.2" fill-opacity="0.9"/>
<circle cx="536.9" cy="526.7" r="1.0" fill-opacity="0.9"/>
<circle cx="537.5" cy="526.3" r="1.0" fill-opacity="0.9"/>
<circle cx="530.1" cy="517.8" r="1.2" fill-opacity="0.9"/>
<circle cx="530.3" cy="528.1" r="1.0" fill-opacity="0.9"/>
<circle cx="537.2" cy="526.7" r="1.0" fill-opacity="0.9"/>
<circle cx="529.5" cy="517.0" r="0.6" fill-opacity="0.9"/>
<circle cx="529.4" cy="517.2" r="0.6" fill-opacity="0.9"/>
<circle cx="530.8" cy="515.8" r="0.8" fill-opacity="0.9"/>
<circle cx="528.3" cy="516.8" r="0.8" fill-opacity="0.9"/>
<circle cx="534.7" cy="528.6" r="1.2" fill-opacity="0.9"/>
<circle cx="536.7" cy="527.2" r="0.8" fill-opacity="0.9"/>
<circle cx="536.8" cy="519.0" r="1.2" fill-opacity="0.9"/>
<circle cx="526.6" cy="519.9" r="1.2" fill-opacity="0.9"/>
<circle cx="525.7" cy="522.8" r="0.6" fill-opacity="0.9"/>
<circle cx="534.2" cy="524.0" r="1.2" fill-opacity="0.9"/>
<circle cx="529.6" cy="525.1" r="1.2" fill-opacity="0.9"/>
<circle cx="534.3" cy="522.9" r="1.2" fill-opacity="0.9"/>
<circle cx="528.4" cy="521.9" r="1.0" fill-opacity="0.9"/>
<circle cx="536.7" cy="516.7" r="1.2" fill-opacity="0.9"/>
<circle cx="526.0" cy="520.3" r="1.0" fill-opacity="0.9"/>
<circle cx="524.9" cy="522.1" r="0.8" fill-opacity="0.9"/>
<circle cx="531.6" cy="524.4" r="0.6" fill-opacity="0.9"/>
<circle cx="525.8" cy="519.1" r="0.6" fill-opacity="0.9"/>
<circle cx="533.1" cy="525.1" r="1.2" fill-opacity="0.9"/>
<circle cx="529.8" cy="517.8" r="0.8" fill-opacity="0.9"/>
<circle cx="529.7" cy="520.4" r="1.2" fill-opacity="0.9"/>
<circle cx="533.4" cy="516.6" r="0.8" fill-opacity="0.9"/>
<circle cx="529.0" cy="520.6" r="1.0" fill-opacity="0.9"/>
<circle cx="529.3" cy="525.0" r="1.2" fill-opacity="0.9"/>
<circle cx="537.2" cy="517.3" r="1.2" fill-opacity="0.9"/>
<circle cx="529.2" cy="528.7" r="1.0" fill-opacity="0.9"/>
<circle cx="527.3" cy="516.3" r="1.0" fill-opacity="0.9"/>
<circle cx="536.4" cy="518.2" r="0.6" fill-opacity="0.9"/>
<circle cx="527.1" cy="518.1" r="0.6" fill-opacity="0.9"/>
<circle cx="536.7" cy="526.2" r="0.8" fill-opacity="0.9"/>
<circle cx="526.8" cy="522.3" r="1.2" fill-opacity="0.9"/>
<circle cx="533.9" cy="528.5" r="0.8" fill-opacity="0.9"/>
<circle cx="536.7" cy="523.3" r="1.2" fill-opacity="0.9"/>
<circle cx="534.7" cy="524.6" r="0.8" fill-opacity="0.9"/>
<circle cx="536.0" cy="527.2" r="0.6" fill-opacity="0.9"/>
<circle cx="537.3" cy="523.0" r="0.6" fill-opacity="0.9"/>
<circle cx="530.9" cy="522.0" r="1.0" fill-opacity="0.9"/>
<circle cx="529.0" cy="528.4" r="0.8" fill-opacity="0.9"/>
<circle cx="537.5" cy="525.4" r="0.6" fill-opacity="0.9"/>
</g></g>
<clipPath id="wd3"><circle cx="592.2" cy="528.1" r="27"/></clipPath>
<circle cx="592.2" cy="528.1" r="30" fill="#eef0f7" stroke="#a9aebc" stroke-width="0.9"/>
<circle cx="592.2" cy="528.1" r="28.4" fill="none" stroke="#fbfcff" stroke-width="2.2"/>
<circle cx="592.2" cy="528.1" r="27.2" fill="none" stroke="#c4c6d2" stroke-width="0.6"/>
<circle cx="592.2" cy="528.1" r="27" fill="url(#wellbg)"/>
<circle cx="592.2" cy="528.1" r="27" fill="#dcdce5"/>
<g clip-path="url(#wd3)">
<g filter="url(#blur3)">
<ellipse cx="600.2" cy="523.1" rx="5.6" ry="6.3" fill="#4b3bd6" fill-opacity="0.3"/>
</g><g fill="#3f2fd0" filter="url(#blur1)">
<circle cx="592.9" cy="536.6" r="0.75" fill-opacity="0.63"/>
<circle cx="611.7" cy="530.5" r="0.6" fill-opacity="0.87"/>
<circle cx="595.6" cy="547.2" r="0.6" fill-opacity="0.89"/>
<circle cx="590.3" cy="553.8" r="0.35" fill-opacity="0.88"/>
<ellipse cx="595.8" cy="517.0" rx="0.8" ry="0.5" fill-opacity="0.90" transform="rotate(95 595.8 517.0)"/>
<circle cx="609.8" cy="538.8" r="0.75" fill-opacity="0.66"/>
<circle cx="584.4" cy="529.4" r="0.9" fill-opacity="0.60"/>
<circle cx="586.4" cy="549.6" r="0.6" fill-opacity="0.78"/>
<circle cx="574.6" cy="538.7" r="0.75" fill-opacity="0.68"/>
<ellipse cx="590.8" cy="551.7" rx="0.5" ry="0.3" fill-opacity="0.82" transform="rotate(71 590.8 551.7)"/>
<ellipse cx="571.0" cy="525.6" rx="0.8" ry="0.5" fill-opacity="0.84" transform="rotate(17 571.0 525.6)"/>
<ellipse cx="582.0" cy="534.3" rx="1.0" ry="0.6" fill-opacity="0.72" transform="rotate(150 582.0 534.3)"/>
<ellipse cx="583.7" cy="546.0" rx="0.8" ry="0.5" fill-opacity="0.62" transform="rotate(58 583.7 546.0)"/>
<ellipse cx="588.7" cy="548.0" rx="0.6" ry="0.4" fill-opacity="0.93" transform="rotate(74 588.7 548.0)"/>
<circle cx="586.9" cy="529.5" r="0.35" fill-opacity="0.93"/>
<circle cx="589.7" cy="502.3" r="0.35" fill-opacity="0.71"/>
<circle cx="604.5" cy="545.6" r="0.9" fill-opacity="0.63"/>
<ellipse cx="573.7" cy="511.2" rx="0.8" ry="0.5" fill-opacity="0.73" transform="rotate(40 573.7 511.2)"/>
<circle cx="590.9" cy="530.3" r="0.35" fill-opacity="0.73"/>
<ellipse cx="601.1" cy="503.2" rx="1.2" ry="0.7" fill-opacity="0.94" transform="rotate(108 601.1 503.2)"/>
<ellipse cx="599.9" cy="523.6" rx="0.5" ry="0.3" fill-opacity="0.66" transform="rotate(173 599.9 523.6)"/>
<circle cx="612.5" cy="524.3" r="0.9" fill-opacity="0.69"/>
<ellipse cx="601.5" cy="528.0" rx="1.2" ry="0.7" fill-opacity="0.95" transform="rotate(166 601.5 528.0)"/>
<circle cx="610.5" cy="526.7" r="0.45" fill-opacity="0.77"/>
<circle cx="595.6" cy="545.4" r="0.75" fill-opacity="0.77"/>
<circle cx="605.3" cy="530.7" r="0.45" fill-opacity="0.87"/>
<ellipse cx="580.4" cy="534.8" rx="0.8" ry="0.5" fill-opacity="0.92" transform="rotate(144 580.4 534.8)"/>
<circle cx="607.0" cy="541.5" r="0.35" fill-opacity="0.63"/>
<circle cx="598.2" cy="552.1" r="0.45" fill-opacity="0.83"/>
<circle cx="598.7" cy="507.9" r="0.75" fill-opacity="0.83"/>
<circle cx="586.8" cy="515.5" r="0.75" fill-opacity="0.63"/>
<ellipse cx="617.8" cy="523.4" rx="0.6" ry="0.4" fill-opacity="0.91" transform="rotate(32 617.8 523.4)"/>
<circle cx="593.7" cy="514.4" r="0.35" fill-opacity="0.84"/>
<circle cx="574.4" cy="532.1" r="0.75" fill-opacity="0.68"/>
<circle cx="617.6" cy="528.6" r="0.35" fill-opacity="0.69"/>
<circle cx="573.8" cy="542.3" r="0.75" fill-opacity="0.79"/>
<circle cx="600.8" cy="519.9" r="0.9" fill-opacity="0.91"/>
<circle cx="594.9" cy="510.1" r="0.9" fill-opacity="0.63"/>
<circle cx="589.2" cy="519.7" r="0.9" fill-opacity="0.81"/>
<circle cx="602.5" cy="540.3" r="0.9" fill-opacity="0.70"/>
<circle cx="588.1" cy="534.0" r="0.9" fill-opacity="0.67"/>
<circle cx="608.5" cy="525.7" r="0.75" fill-opacity="0.74"/>
<circle cx="614.6" cy="539.9" r="0.6" fill-opacity="0.75"/>
<circle cx="606.8" cy="509.9" r="0.35" fill-opacity="0.93"/>
<circle cx="575.5" cy="508.7" r="0.75" fill-opacity="0.88"/>
<circle cx="604.5" cy="549.6" r="0.45" fill-opacity="0.71"/>
<circle cx="600.8" cy="517.7" r="0.35" fill-opacity="0.60"/>
<circle cx="584.8" cy="546.2" r="0.75" fill-opacity="0.81"/>
<circle cx="573.3" cy="525.0" r="0.75" fill-opacity="0.72"/>
<circle cx="595.0" cy="501.9" r="0.35" fill-opacity="0.81"/>
<circle cx="582.4" cy="551.4" r="0.75" fill-opacity="0.80"/>
<circle cx="609.6" cy="520.8" r="0.75" fill-opacity="0.75"/>
<circle cx="607.0" cy="546.1" r="0.6" fill-opacity="0.72"/>
<ellipse cx="573.4" cy="536.5" rx="1.2" ry="0.7" fill-opacity="0.92" transform="rotate(95 573.4 536.5)"/>
<circle cx="599.9" cy="550.4" r="0.9" fill-opacity="0.63"/>
<circle cx="576.8" cy="508.1" r="0.6" fill-opacity="0.71"/>
<circle cx="590.9" cy="531.9" r="0.35" fill-opacity="0.86"/>
<ellipse cx="605.7" cy="536.5" rx="0.5" ry="0.3" fill-opacity="0.80" transform="rotate(126 605.7 536.5)"/>
<circle cx="578.2" cy="505.7" r="0.35" fill-opacity="0.94"/>
<circle cx="608.1" cy="542.4" r="0.45" fill-opacity="0.89"/>
<circle cx="583.9" cy="552.2" r="0.75" fill-opacity="0.68"/>
<ellipse cx="579.8" cy="528.9" rx="0.8" ry="0.5" fill-opacity="0.71" transform="rotate(160 579.8 528.9)"/>
<circle cx="574.7" cy="524.8" r="0.75" fill-opacity="0.94"/>
<ellipse cx="585.4" cy="544.3" rx="1.2" ry="0.7" fill-opacity="0.66" transform="rotate(138 585.4 544.3)"/>
<circle cx="573.0" cy="533.2" r="0.6" fill-opacity="0.74"/>
<circle cx="605.1" cy="524.1" r="1.2" fill-opacity="0.9"/>
<circle cx="607.1" cy="521.8" r="1.0" fill-opacity="0.9"/>
<circle cx="597.1" cy="520.5" r="0.6" fill-opacity="0.9"/>
<circle cx="600.4" cy="517.7" r="1.2" fill-opacity="0.9"/>
<circle cx="605.0" cy="518.9" r="0.8" fill-opacity="0.9"/>
<circle cx="601.8" cy="522.2" r="0.8" fill-opacity="0.9"/>
<circle cx="602.9" cy="522.1" r="1.0" fill-opacity="0.9"/>
<circle cx="603.6" cy="523.5" r="0.6" fill-opacity="0.9"/>
<circle cx="602.1" cy="530.3" r="0.6" fill-opacity="0.9"/>
<circle cx="601.4" cy="524.4" r="1.0" fill-opacity="0.9"/>
<circle cx="595.9" cy="519.2" r="0.8" fill-opacity="0.9"/>
<circle cx="599.5" cy="516.9" r="0.8" fill-opacity="0.9"/>
<circle cx="604.5" cy="518.6" r="1.0" fill-opacity="0.9"/>
<circle cx="598.1" cy="517.0" r="0.8" fill-opacity="0.9"/>
<circle cx="597.5" cy="523.1" r="1.0" fill-opacity="0.9"/>
<circle cx="598.4" cy="523.3" r="0.8" fill-opacity="0.9"/>
<circle cx="603.6" cy="529.3" r="1.2" fill-opacity="0.9"/>
<circle cx="596.5" cy="522.1" r="1.2" fill-opacity="0.9"/>
<circle cx="598.1" cy="527.3" r="1.2" fill-opacity="0.9"/>
<circle cx="603.9" cy="522.6" r="0.6" fill-opacity="0.9"/>
<circle cx="598.1" cy="529.6" r="0.6" fill-opacity="0.9"/>
<circle cx="603.8" cy="529.0" r="0.6" fill-opacity="0.9"/>
<circle cx="600.8" cy="528.8" r="1.2" fill-opacity="0.9"/>
<circle cx="604.5" cy="520.1" r="1.2" fill-opacity="0.9"/>
<circle cx="606.1" cy="523.0" r="1.2" fill-opacity="0.9"/>
<circle cx="598.7" cy="525.8" r="0.8" fill-opacity="0.9"/>
<circle cx="604.5" cy="526.9" r="1.0" fill-opacity="0.9"/>
<circle cx="598.3" cy="528.9" r="1.2" fill-opacity="0.9"/>
<circle cx="599.1" cy="522.2" r="0.8" fill-opacity="0.9"/>
<circle cx="600.0" cy="530.2" r="1.0" fill-opacity="0.9"/>
<circle cx="601.2" cy="517.9" r="1.0" fill-opacity="0.9"/>
<circle cx="600.9" cy="521.0" r="0.8" fill-opacity="0.9"/>
<circle cx="605.4" cy="518.6" r="0.6" fill-opacity="0.9"/>
<circle cx="596.2" cy="519.7" r="1.0" fill-opacity="0.9"/>
<circle cx="602.9" cy="521.7" r="0.6" fill-opacity="0.9"/>
</g></g>
</svg>
</body></html>
